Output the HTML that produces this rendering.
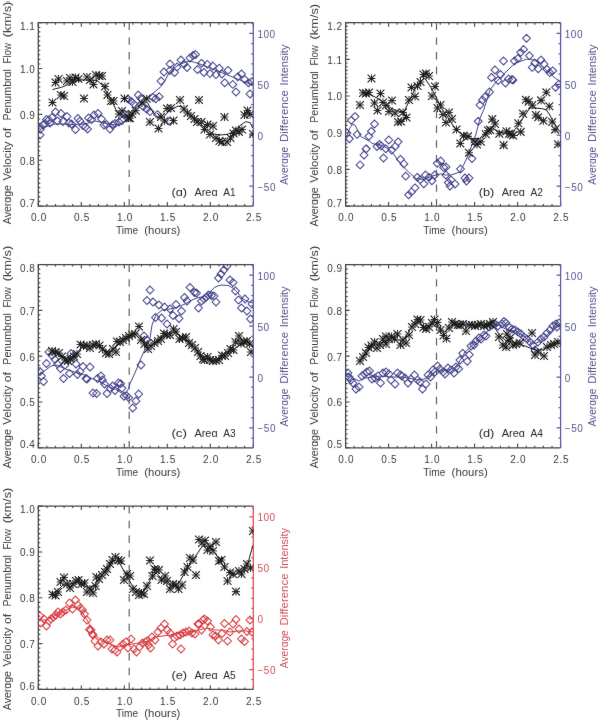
<!DOCTYPE html>
<html><head><meta charset="utf-8"><style>
html,body{margin:0;padding:0;background:#fff;}
svg{display:block;} text{-webkit-font-smoothing:antialiased;}
</style></head><body>
<svg width="600" height="721" viewBox="0 0 600 721" font-family="Liberation Sans, sans-serif">
<rect width="600" height="721" fill="#fff"/>
<defs><filter id="bl" x="0" y="0" width="1" height="1" filterUnits="objectBoundingBox"><feConvolveMatrix order="3" kernelMatrix="0.0028 0.0470 0.0028 0.0470 0.8008 0.0470 0.0028 0.0470 0.0028" edgeMode="duplicate" preserveAlpha="false"/></filter></defs>
<g style="will-change:transform" filter="url(#bl)">
<clipPath id="cpa"><rect x="38.3" y="22.7" width="215" height="183.3"/></clipPath>
<path d="M38.3 206v-4M38.3 22.7v4M46.9 206v-2M46.9 22.7v2M55.5 206v-2M55.5 22.7v2M64.1 206v-2M64.1 22.7v2M72.7 206v-2M72.7 22.7v2M81.3 206v-4M81.3 22.7v4M89.9 206v-2M89.9 22.7v2M98.5 206v-2M98.5 22.7v2M107.1 206v-2M107.1 22.7v2M115.7 206v-2M115.7 22.7v2M124.3 206v-4M124.3 22.7v4M132.9 206v-2M132.9 22.7v2M141.5 206v-2M141.5 22.7v2M150.1 206v-2M150.1 22.7v2M158.7 206v-2M158.7 22.7v2M167.3 206v-4M167.3 22.7v4M175.9 206v-2M175.9 22.7v2M184.5 206v-2M184.5 22.7v2M193.1 206v-2M193.1 22.7v2M201.7 206v-2M201.7 22.7v2M210.3 206v-4M210.3 22.7v4M218.9 206v-2M218.9 22.7v2M227.5 206v-2M227.5 22.7v2M236.1 206v-2M236.1 22.7v2M244.7 206v-2M244.7 22.7v2M253.3 206v-4M253.3 22.7v4M38.3 206h4M38.3 201.42h2M38.3 196.84h2M38.3 192.25h2M38.3 187.67h2M38.3 183.09h2M38.3 178.5h2M38.3 173.92h2M38.3 169.34h2M38.3 164.76h2M38.3 160.18h4M38.3 155.59h2M38.3 151.01h2M38.3 146.43h2M38.3 141.84h2M38.3 137.26h2M38.3 132.68h2M38.3 128.1h2M38.3 123.52h2M38.3 118.93h2M38.3 114.35h4M38.3 109.77h2M38.3 105.18h2M38.3 100.6h2M38.3 96.02h2M38.3 91.44h2M38.3 86.85h2M38.3 82.27h2M38.3 77.69h2M38.3 73.11h2M38.3 68.53h4M38.3 63.94h2M38.3 59.36h2M38.3 54.78h2M38.3 50.19h2M38.3 45.61h2M38.3 41.03h2M38.3 36.45h2M38.3 31.86h2M38.3 27.28h2M38.3 22.7h4" stroke="#444" stroke-width="1.1" fill="none"/>
<path d="M253.3 22.7H38.3V206H253.3" stroke="#444" stroke-width="1.25" fill="none"/>
<path d="M253.3 22.7V206M253.3 196.33h-2M253.3 186.14h-4M253.3 175.96h-2M253.3 165.78h-2M253.3 155.59h-2M253.3 145.41h-2M253.3 135.23h-4M253.3 125.04h-2M253.3 114.86h-2M253.3 104.68h-2M253.3 94.49h-2M253.3 84.31h-4M253.3 74.13h-2M253.3 63.94h-2M253.3 53.76h-2M253.3 43.58h-2M253.3 33.39h-4M253.3 23.21h-2" stroke="#5858a4" stroke-width="1.25" fill="none"/>
<text x="35.4" y="206.6" text-anchor="end" fill="#3c3c3c" font-size="10" letter-spacing="0.5">0.7</text>
<text x="35.4" y="164.58" text-anchor="end" fill="#3c3c3c" font-size="10" letter-spacing="0.5">0.8</text>
<text x="35.4" y="118.75" text-anchor="end" fill="#3c3c3c" font-size="10" letter-spacing="0.5">0.9</text>
<text x="35.4" y="72.93" text-anchor="end" fill="#3c3c3c" font-size="10" letter-spacing="0.5">1.0</text>
<text x="35.4" y="29.9" text-anchor="end" fill="#3c3c3c" font-size="10" letter-spacing="0.5">1.1</text>
<text x="38.9" y="221.2" text-anchor="middle" fill="#3c3c3c" font-size="10" letter-spacing="0.7">0.0</text>
<text x="81.9" y="221.2" text-anchor="middle" fill="#3c3c3c" font-size="10" letter-spacing="0.7">0.5</text>
<text x="124.9" y="221.2" text-anchor="middle" fill="#3c3c3c" font-size="10" letter-spacing="0.7">1.0</text>
<text x="167.9" y="221.2" text-anchor="middle" fill="#3c3c3c" font-size="10" letter-spacing="0.7">1.5</text>
<text x="210.9" y="221.2" text-anchor="middle" fill="#3c3c3c" font-size="10" letter-spacing="0.7">2.0</text>
<text x="253.9" y="221.2" text-anchor="middle" fill="#3c3c3c" font-size="10" letter-spacing="0.7">2.5</text>
<text x="257.5" y="37.89" fill="#55558f" font-size="10" letter-spacing="0.5">100</text>
<text x="257.5" y="88.81" fill="#55558f" font-size="10" letter-spacing="0.5">50</text>
<text x="257.5" y="139.73" fill="#55558f" font-size="10" letter-spacing="0.5">0</text>
<text x="257.5" y="190.64" fill="#55558f" font-size="10" letter-spacing="0.5">−50</text>
<text x="115.9" y="233.7" fill="#3c3c3c" font-size="10" textLength="22.2" lengthAdjust="spacingAndGlyphs">Time</text>
<text x="144.3" y="233.7" fill="#3c3c3c" font-size="10" textLength="36.1" lengthAdjust="spacingAndGlyphs">(hours)</text>
<text transform="translate(11,224.2) rotate(-90)" fill="#3c3c3c" font-size="10" textLength="39.1" lengthAdjust="spacingAndGlyphs">Averɑge</text>
<text transform="translate(11,180.6) rotate(-90)" fill="#3c3c3c" font-size="10" textLength="39.1" lengthAdjust="spacingAndGlyphs">Velocity</text>
<text transform="translate(11,138.1) rotate(-90)" fill="#3c3c3c" font-size="10" textLength="10.2" lengthAdjust="spacingAndGlyphs">of</text>
<text transform="translate(11,120.6) rotate(-90)" fill="#3c3c3c" font-size="10" textLength="51.5" lengthAdjust="spacingAndGlyphs">Penumbrɑl</text>
<text transform="translate(11,63.4) rotate(-90)" fill="#3c3c3c" font-size="10" textLength="20.3" lengthAdjust="spacingAndGlyphs">Flow</text>
<text transform="translate(11,37.2) rotate(-90)" fill="#3c3c3c" font-size="10" textLength="35.5" lengthAdjust="spacingAndGlyphs">(km/s)</text>
<text transform="translate(288,184.8) rotate(-90)" fill="#55558f" font-size="10" textLength="38" lengthAdjust="spacingAndGlyphs">Averɑge</text>
<text transform="translate(288,142) rotate(-90)" fill="#55558f" font-size="10" textLength="51.9" lengthAdjust="spacingAndGlyphs">Difference</text>
<text transform="translate(288,85.4) rotate(-90)" fill="#55558f" font-size="10" textLength="40.8" lengthAdjust="spacingAndGlyphs">Intensity</text>
<text x="171.4" y="195.6" fill="#2a2a2a" font-size="10.6" textLength="15.6" lengthAdjust="spacingAndGlyphs">(ɑ)</text>
<text x="194.4" y="195.6" fill="#2a2a2a" font-size="10.6" textLength="23.2" lengthAdjust="spacingAndGlyphs">Areɑ</text>
<text x="223.2" y="195.6" fill="#2a2a2a" font-size="10.6" textLength="12.4" lengthAdjust="spacingAndGlyphs">A1</text>
<path d="M129.2 22.7V206" stroke="#626262" stroke-width="1.2" stroke-dasharray="7.4 7.3" fill="none"/>
<polyline clip-path="url(#cpa)" points="38,131 45,127 55,124 65,124 75,124.5 85,124 95,121 105,123 115,125 120,124.5 125,121 130,113 137.5,103.3 148.3,96.7 154,92.5 160.8,86.7 164,82.5 170,71 180,64 190,61 200,64 210,68 220,72 230,76 240,80 252,85" stroke="#45458c" stroke-width="1" fill="none" stroke-linejoin="round"/>
<path clip-path="url(#cpa)" d="M40 131.1L43.9 135L40 138.9L36.1 135ZM40.5 125.1L44.4 129L40.5 132.9L36.6 129ZM43 121.1L46.9 125L43 128.9L39.1 125ZM45 119.6L48.9 123.5L45 127.4L41.1 123.5ZM46.5 115.6L50.4 119.5L46.5 123.4L42.6 119.5ZM49 116.1L52.9 120L49 123.9L45.1 120ZM50 119.1L53.9 123L50 126.9L46.1 123ZM52 113.6L55.9 117.5L52 121.4L48.1 117.5ZM55.5 108.1L59.4 112L55.5 115.9L51.6 112ZM57.5 117.1L61.4 121L57.5 124.9L53.6 121ZM61 109.6L64.9 113.5L61 117.4L57.1 113.5ZM63 117.6L66.9 121.5L63 125.4L59.1 121.5ZM67 112.6L70.9 116.5L67 120.4L63.1 116.5ZM69 119.1L72.9 123L69 126.9L65.1 123ZM71.5 120.1L75.4 124L71.5 127.9L67.6 124ZM75.5 125.6L79.4 129.5L75.5 133.4L71.6 129.5ZM78 114.6L81.9 118.5L78 122.4L74.1 118.5ZM80 117.1L83.9 121L80 124.9L76.1 121ZM83 121.6L86.9 125.5L83 129.4L79.1 125.5ZM85.5 123.1L89.4 127L85.5 130.9L81.6 127ZM87.5 125.1L91.4 129L87.5 132.9L83.6 129ZM88.5 114.1L92.4 118L88.5 121.9L84.6 118ZM91.5 115.6L95.4 119.5L91.5 123.4L87.6 119.5ZM94 111.1L97.9 115L94 118.9L90.1 115ZM98 109.6L101.9 113.5L98 117.4L94.1 113.5ZM101.5 115.1L105.4 119L101.5 122.9L97.6 119ZM104 121.1L107.9 125L104 128.9L100.1 125ZM106.5 120.6L110.4 124.5L106.5 128.4L102.6 124.5ZM110 125.1L113.9 129L110 132.9L106.1 129ZM112.5 121.1L116.4 125L112.5 128.9L108.6 125ZM115 119.6L118.9 123.5L115 127.4L111.1 123.5ZM119 118.1L122.9 122L119 125.9L115.1 122ZM122 116.6L125.9 120.5L122 124.4L118.1 120.5ZM124.5 110.1L128.4 114L124.5 117.9L120.6 114ZM128.3 95.3L132.2 99.2L128.3 103.1L124.4 99.2ZM127.5 111.1L131.4 115L127.5 118.9L123.6 115ZM131.7 97.8L135.6 101.7L131.7 105.6L127.8 101.7ZM134.2 100.3L138.1 104.2L134.2 108.1L130.3 104.2ZM138.3 91.1L142.2 95L138.3 98.9L134.4 95ZM140.8 94.4L144.7 98.3L140.8 102.2L136.9 98.3ZM143.3 102.8L147.2 106.7L143.3 110.6L139.4 106.7ZM146.7 105.3L150.6 109.2L146.7 113.1L142.8 109.2ZM150 107.8L153.9 111.7L150 115.6L146.1 111.7ZM152.9 93.6L156.8 97.5L152.9 101.4L149 97.5ZM155.8 94.9L159.7 98.8L155.8 102.7L151.9 98.8ZM159.2 92.8L163.1 96.7L159.2 100.6L155.3 96.7ZM157.5 110.7L161.4 114.6L157.5 118.5L153.6 114.6ZM170 117.6L173.9 121.5L170 125.4L166.1 121.5ZM161 77.1L164.9 81L161 84.9L157.1 81ZM164 68.1L167.9 72L164 75.9L160.1 72ZM170 60.1L173.9 64L170 67.9L166.1 64ZM170 66.6L173.9 70.5L170 74.4L166.1 70.5ZM174.5 68.6L178.4 72.5L174.5 76.4L170.6 72.5ZM177 63.1L180.9 67L177 70.9L173.1 67ZM181 56.1L184.9 60L181 63.9L177.1 60ZM184 60.1L187.9 64L184 67.9L180.1 64ZM187 63.6L190.9 67.5L187 71.4L183.1 67.5ZM190 54.1L193.9 58L190 61.9L186.1 58ZM193 51.6L196.9 55.5L193 59.4L189.1 55.5ZM195.5 50.6L199.4 54.5L195.5 58.4L191.6 54.5ZM197.5 65.6L201.4 69.5L197.5 73.4L193.6 69.5ZM201.5 59.4L205.4 63.3L201.5 67.2L197.6 63.3ZM204 68.6L207.9 72.5L204 76.4L200.1 72.5ZM207.3 60.5L211.2 64.4L207.3 68.3L203.4 64.4ZM210 69.7L213.9 73.6L210 77.5L206.1 73.6ZM212.8 62.1L216.7 66L212.8 69.9L208.9 66ZM216 70.8L219.9 74.7L216 78.6L212.1 74.7ZM219.3 64.3L223.2 68.2L219.3 72.1L215.4 68.2ZM222 70.1L225.9 74L222 77.9L218.1 74ZM224.7 78.9L228.6 82.8L224.7 86.7L220.8 82.8ZM228 66.4L231.9 70.3L228 74.2L224.1 70.3ZM232.8 80.5L236.7 84.4L232.8 88.3L228.9 84.4ZM236 88.1L239.9 92L236 95.9L232.1 92ZM237.7 72.9L241.6 76.8L237.7 80.7L233.8 76.8ZM241.5 70.1L245.4 74L241.5 77.9L237.6 74ZM244.7 75.6L248.6 79.5L244.7 83.4L240.8 79.5ZM248.5 78.9L252.4 82.8L248.5 86.7L244.6 82.8ZM250 90.1L253.9 94L250 97.9L246.1 94ZM251.8 77.8L255.7 81.7L251.8 85.6L247.9 81.7Z" stroke="#45458c" stroke-width="1.05" fill="none"/>
<polyline clip-path="url(#cpa)" points="52.5,89.5 61.5,87.3 67,85 72,82 80,80 90,80 97.3,80.5 104.3,87.5 107.8,94.5 112,101.5 116,109.7 119.5,113.2 125.3,116.7 130,115.5 134.7,109.7 139.3,105 144,101.5 147.5,102.7 152,110.8 156.8,116.7 162.7,117.8 170,110 178,106 182,107 185,110.5 196.7,119.8 206,129.2 213,133.8 220,135 227,134.4 234,131.5 239.8,125.7 245.7,121.6 250.3,122.8 252.7,128" stroke="#1a1a1a" stroke-width="1" fill="none" stroke-linejoin="round"/>
<path clip-path="url(#cpa)" d="M48.6 102.5h7.8M52.5 98.6v7.8M51.6 82.5h7.8M55.5 78.6v7.8M54.6 79h7.8M58.5 75.1v7.8M57.1 95h7.8M61 91.1v7.8M60.1 96h7.8M64 92.1v7.8M63.1 81h7.8M67 77.1v7.8M66.1 78h7.8M70 74.1v7.8M68.6 82h7.8M72.5 78.1v7.8M71.6 77.5h7.8M75.5 73.6v7.8M74.6 79h7.8M78.5 75.1v7.8M80.1 98.5h7.8M84 94.6v7.8M83.1 77h7.8M87 73.1v7.8M86.1 80h7.8M90 76.1v7.8M89.6 84.5h7.8M93.5 80.6v7.8M92.1 75h7.8M96 71.1v7.8M95.6 76h7.8M99.5 72.1v7.8M98.1 76h7.8M102 72.1v7.8M101.1 86.5h7.8M105 82.6v7.8M103.6 95h7.8M107.5 91.1v7.8M107.1 101h7.8M111 97.1v7.8M109.6 101h7.8M113.5 97.1v7.8M115.1 114h7.8M119 110.1v7.8M118.1 111h7.8M122 107.1v7.8M120.6 98.5h7.8M124.5 94.6v7.8M124.6 118h7.8M128.5 114.1v7.8M126.1 118.3h7.8M130 114.4v7.8M128.1 114h7.8M132 110.1v7.8M131.9 110.8h7.8M135.8 106.9v7.8M138.1 103h7.8M142 99.1v7.8M142.8 98.8h7.8M146.7 94.9v7.8M146.1 122h7.8M150 118.1v7.8M154.6 128.5h7.8M158.5 124.6v7.8M157.1 117h7.8M161 113.1v7.8M160.6 121h7.8M164.5 117.1v7.8M163.1 108.5h7.8M167 104.6v7.8M167.1 108h7.8M171 104.1v7.8M169.6 120.5h7.8M173.5 116.6v7.8M176.1 100h7.8M180 96.1v7.8M180.1 109h7.8M184 105.1v7.8M183.6 113h7.8M187.5 109.1v7.8M187.1 116h7.8M191 112.1v7.8M190.6 119h7.8M194.5 115.1v7.8M193.1 122h7.8M197 118.1v7.8M195.1 100h7.8M199 96.1v7.8M197.6 122h7.8M201.5 118.1v7.8M200.6 129.5h7.8M204.5 125.6v7.8M203.6 124.5h7.8M207.5 120.6v7.8M206.1 134.5h7.8M210 130.6v7.8M209.1 126h7.8M213 122.1v7.8M212.1 138h7.8M216 134.1v7.8M215.6 141h7.8M219.5 137.1v7.8M218.1 142h7.8M222 138.1v7.8M220.6 117h7.8M224.5 113.1v7.8M223.1 142h7.8M227 138.1v7.8M226.6 138h7.8M230.5 134.1v7.8M229.6 133.5h7.8M233.5 129.6v7.8M232.1 130.5h7.8M236 126.6v7.8M235.1 132h7.8M239 128.1v7.8M238.1 129.5h7.8M242 125.6v7.8M240.6 115h7.8M244.5 111.1v7.8M243.6 110.5h7.8M247.5 106.6v7.8M246.1 114.5h7.8M250 110.6v7.8M249.1 134h7.8M253 130.1v7.8" stroke="#333" stroke-width="1.1" fill="none"/>
<path clip-path="url(#cpa)" d="M48.6 98.6l7.8 7.8M48.6 106.4l7.8 -7.8M51.6 78.6l7.8 7.8M51.6 86.4l7.8 -7.8M54.6 75.1l7.8 7.8M54.6 82.9l7.8 -7.8M57.1 91.1l7.8 7.8M57.1 98.9l7.8 -7.8M60.1 92.1l7.8 7.8M60.1 99.9l7.8 -7.8M63.1 77.1l7.8 7.8M63.1 84.9l7.8 -7.8M66.1 74.1l7.8 7.8M66.1 81.9l7.8 -7.8M68.6 78.1l7.8 7.8M68.6 85.9l7.8 -7.8M71.6 73.6l7.8 7.8M71.6 81.4l7.8 -7.8M74.6 75.1l7.8 7.8M74.6 82.9l7.8 -7.8M80.1 94.6l7.8 7.8M80.1 102.4l7.8 -7.8M83.1 73.1l7.8 7.8M83.1 80.9l7.8 -7.8M86.1 76.1l7.8 7.8M86.1 83.9l7.8 -7.8M89.6 80.6l7.8 7.8M89.6 88.4l7.8 -7.8M92.1 71.1l7.8 7.8M92.1 78.9l7.8 -7.8M95.6 72.1l7.8 7.8M95.6 79.9l7.8 -7.8M98.1 72.1l7.8 7.8M98.1 79.9l7.8 -7.8M101.1 82.6l7.8 7.8M101.1 90.4l7.8 -7.8M103.6 91.1l7.8 7.8M103.6 98.9l7.8 -7.8M107.1 97.1l7.8 7.8M107.1 104.9l7.8 -7.8M109.6 97.1l7.8 7.8M109.6 104.9l7.8 -7.8M115.1 110.1l7.8 7.8M115.1 117.9l7.8 -7.8M118.1 107.1l7.8 7.8M118.1 114.9l7.8 -7.8M120.6 94.6l7.8 7.8M120.6 102.4l7.8 -7.8M124.6 114.1l7.8 7.8M124.6 121.9l7.8 -7.8M126.1 114.4l7.8 7.8M126.1 122.2l7.8 -7.8M128.1 110.1l7.8 7.8M128.1 117.9l7.8 -7.8M131.9 106.9l7.8 7.8M131.9 114.7l7.8 -7.8M138.1 99.1l7.8 7.8M138.1 106.9l7.8 -7.8M142.8 94.9l7.8 7.8M142.8 102.7l7.8 -7.8M146.1 118.1l7.8 7.8M146.1 125.9l7.8 -7.8M154.6 124.6l7.8 7.8M154.6 132.4l7.8 -7.8M157.1 113.1l7.8 7.8M157.1 120.9l7.8 -7.8M160.6 117.1l7.8 7.8M160.6 124.9l7.8 -7.8M163.1 104.6l7.8 7.8M163.1 112.4l7.8 -7.8M167.1 104.1l7.8 7.8M167.1 111.9l7.8 -7.8M169.6 116.6l7.8 7.8M169.6 124.4l7.8 -7.8M176.1 96.1l7.8 7.8M176.1 103.9l7.8 -7.8M180.1 105.1l7.8 7.8M180.1 112.9l7.8 -7.8M183.6 109.1l7.8 7.8M183.6 116.9l7.8 -7.8M187.1 112.1l7.8 7.8M187.1 119.9l7.8 -7.8M190.6 115.1l7.8 7.8M190.6 122.9l7.8 -7.8M193.1 118.1l7.8 7.8M193.1 125.9l7.8 -7.8M195.1 96.1l7.8 7.8M195.1 103.9l7.8 -7.8M197.6 118.1l7.8 7.8M197.6 125.9l7.8 -7.8M200.6 125.6l7.8 7.8M200.6 133.4l7.8 -7.8M203.6 120.6l7.8 7.8M203.6 128.4l7.8 -7.8M206.1 130.6l7.8 7.8M206.1 138.4l7.8 -7.8M209.1 122.1l7.8 7.8M209.1 129.9l7.8 -7.8M212.1 134.1l7.8 7.8M212.1 141.9l7.8 -7.8M215.6 137.1l7.8 7.8M215.6 144.9l7.8 -7.8M218.1 138.1l7.8 7.8M218.1 145.9l7.8 -7.8M220.6 113.1l7.8 7.8M220.6 120.9l7.8 -7.8M223.1 138.1l7.8 7.8M223.1 145.9l7.8 -7.8M226.6 134.1l7.8 7.8M226.6 141.9l7.8 -7.8M229.6 129.6l7.8 7.8M229.6 137.4l7.8 -7.8M232.1 126.6l7.8 7.8M232.1 134.4l7.8 -7.8M235.1 128.1l7.8 7.8M235.1 135.9l7.8 -7.8M238.1 125.6l7.8 7.8M238.1 133.4l7.8 -7.8M240.6 111.1l7.8 7.8M240.6 118.9l7.8 -7.8M243.6 106.6l7.8 7.8M243.6 114.4l7.8 -7.8M246.1 110.6l7.8 7.8M246.1 118.4l7.8 -7.8M249.1 130.1l7.8 7.8M249.1 137.9l7.8 -7.8" stroke="#1a1a1a" stroke-width="1.1" fill="none"/>
<clipPath id="cpb"><rect x="345.6" y="22.7" width="215" height="183.3"/></clipPath>
<path d="M345.6 206v-4M345.6 22.7v4M354.2 206v-2M354.2 22.7v2M362.8 206v-2M362.8 22.7v2M371.4 206v-2M371.4 22.7v2M380 206v-2M380 22.7v2M388.6 206v-4M388.6 22.7v4M397.2 206v-2M397.2 22.7v2M405.8 206v-2M405.8 22.7v2M414.4 206v-2M414.4 22.7v2M423 206v-2M423 22.7v2M431.6 206v-4M431.6 22.7v4M440.2 206v-2M440.2 22.7v2M448.8 206v-2M448.8 22.7v2M457.4 206v-2M457.4 22.7v2M466 206v-2M466 22.7v2M474.6 206v-4M474.6 22.7v4M483.2 206v-2M483.2 22.7v2M491.8 206v-2M491.8 22.7v2M500.4 206v-2M500.4 22.7v2M509 206v-2M509 22.7v2M517.6 206v-4M517.6 22.7v4M526.2 206v-2M526.2 22.7v2M534.8 206v-2M534.8 22.7v2M543.4 206v-2M543.4 22.7v2M552 206v-2M552 22.7v2M560.6 206v-4M560.6 22.7v4M345.6 206h4M345.6 202.33h2M345.6 198.67h2M345.6 195h2M345.6 191.34h2M345.6 187.67h2M345.6 184h2M345.6 180.34h2M345.6 176.67h2M345.6 173.01h2M345.6 169.34h4M345.6 165.67h2M345.6 162.01h2M345.6 158.34h2M345.6 154.68h2M345.6 151.01h2M345.6 147.34h2M345.6 143.68h2M345.6 140.01h2M345.6 136.35h2M345.6 132.68h4M345.6 129.01h2M345.6 125.35h2M345.6 121.68h2M345.6 118.02h2M345.6 114.35h2M345.6 110.68h2M345.6 107.02h2M345.6 103.35h2M345.6 99.69h2M345.6 96.02h4M345.6 92.35h2M345.6 88.69h2M345.6 85.02h2M345.6 81.36h2M345.6 77.69h2M345.6 74.02h2M345.6 70.36h2M345.6 66.69h2M345.6 63.03h2M345.6 59.36h4M345.6 55.69h2M345.6 52.03h2M345.6 48.36h2M345.6 44.7h2M345.6 41.03h2M345.6 37.36h2M345.6 33.7h2M345.6 30.03h2M345.6 26.37h2M345.6 22.7h4" stroke="#444" stroke-width="1.1" fill="none"/>
<path d="M560.6 22.7H345.6V206H560.6" stroke="#444" stroke-width="1.25" fill="none"/>
<path d="M560.6 22.7V206M560.6 196.33h-2M560.6 186.14h-4M560.6 175.96h-2M560.6 165.78h-2M560.6 155.59h-2M560.6 145.41h-2M560.6 135.23h-4M560.6 125.04h-2M560.6 114.86h-2M560.6 104.68h-2M560.6 94.49h-2M560.6 84.31h-4M560.6 74.13h-2M560.6 63.94h-2M560.6 53.76h-2M560.6 43.58h-2M560.6 33.39h-4M560.6 23.21h-2" stroke="#5858a4" stroke-width="1.25" fill="none"/>
<text x="342.7" y="206.6" text-anchor="end" fill="#3c3c3c" font-size="10" letter-spacing="0.5">0.7</text>
<text x="342.7" y="173.74" text-anchor="end" fill="#3c3c3c" font-size="10" letter-spacing="0.5">0.8</text>
<text x="342.7" y="137.08" text-anchor="end" fill="#3c3c3c" font-size="10" letter-spacing="0.5">0.9</text>
<text x="342.7" y="100.42" text-anchor="end" fill="#3c3c3c" font-size="10" letter-spacing="0.5">1.0</text>
<text x="342.7" y="63.76" text-anchor="end" fill="#3c3c3c" font-size="10" letter-spacing="0.5">1.1</text>
<text x="342.7" y="29.9" text-anchor="end" fill="#3c3c3c" font-size="10" letter-spacing="0.5">1.2</text>
<text x="346.2" y="221.2" text-anchor="middle" fill="#3c3c3c" font-size="10" letter-spacing="0.7">0.0</text>
<text x="389.2" y="221.2" text-anchor="middle" fill="#3c3c3c" font-size="10" letter-spacing="0.7">0.5</text>
<text x="432.2" y="221.2" text-anchor="middle" fill="#3c3c3c" font-size="10" letter-spacing="0.7">1.0</text>
<text x="475.2" y="221.2" text-anchor="middle" fill="#3c3c3c" font-size="10" letter-spacing="0.7">1.5</text>
<text x="518.2" y="221.2" text-anchor="middle" fill="#3c3c3c" font-size="10" letter-spacing="0.7">2.0</text>
<text x="561.2" y="221.2" text-anchor="middle" fill="#3c3c3c" font-size="10" letter-spacing="0.7">2.5</text>
<text x="564.8" y="37.89" fill="#55558f" font-size="10" letter-spacing="0.5">100</text>
<text x="564.8" y="88.81" fill="#55558f" font-size="10" letter-spacing="0.5">50</text>
<text x="564.8" y="139.73" fill="#55558f" font-size="10" letter-spacing="0.5">0</text>
<text x="564.8" y="190.64" fill="#55558f" font-size="10" letter-spacing="0.5">−50</text>
<text x="423.2" y="233.7" fill="#3c3c3c" font-size="10" textLength="22.2" lengthAdjust="spacingAndGlyphs">Time</text>
<text x="451.6" y="233.7" fill="#3c3c3c" font-size="10" textLength="36.1" lengthAdjust="spacingAndGlyphs">(hours)</text>
<text transform="translate(317.9,226.4) rotate(-90)" fill="#3c3c3c" font-size="10" textLength="39.1" lengthAdjust="spacingAndGlyphs">Averɑge</text>
<text transform="translate(317.9,182.8) rotate(-90)" fill="#3c3c3c" font-size="10" textLength="39.1" lengthAdjust="spacingAndGlyphs">Velocity</text>
<text transform="translate(317.9,140.3) rotate(-90)" fill="#3c3c3c" font-size="10" textLength="10.2" lengthAdjust="spacingAndGlyphs">of</text>
<text transform="translate(317.9,122.8) rotate(-90)" fill="#3c3c3c" font-size="10" textLength="51.5" lengthAdjust="spacingAndGlyphs">Penumbrɑl</text>
<text transform="translate(317.9,65.6) rotate(-90)" fill="#3c3c3c" font-size="10" textLength="20.3" lengthAdjust="spacingAndGlyphs">Flow</text>
<text transform="translate(317.9,39.4) rotate(-90)" fill="#3c3c3c" font-size="10" textLength="35.5" lengthAdjust="spacingAndGlyphs">(km/s)</text>
<text transform="translate(596,184.8) rotate(-90)" fill="#55558f" font-size="10" textLength="38" lengthAdjust="spacingAndGlyphs">Averɑge</text>
<text transform="translate(596,142) rotate(-90)" fill="#55558f" font-size="10" textLength="51.9" lengthAdjust="spacingAndGlyphs">Difference</text>
<text transform="translate(596,85.4) rotate(-90)" fill="#55558f" font-size="10" textLength="40.8" lengthAdjust="spacingAndGlyphs">Intensity</text>
<text x="478.7" y="195.6" fill="#2a2a2a" font-size="10.6" textLength="15.6" lengthAdjust="spacingAndGlyphs">(b)</text>
<text x="501.7" y="195.6" fill="#2a2a2a" font-size="10.6" textLength="23.2" lengthAdjust="spacingAndGlyphs">Areɑ</text>
<text x="530.5" y="195.6" fill="#2a2a2a" font-size="10.6" textLength="12.4" lengthAdjust="spacingAndGlyphs">A2</text>
<path d="M436.5 22.7V206" stroke="#626262" stroke-width="1.2" stroke-dasharray="7.4 7.3" fill="none"/>
<polyline clip-path="url(#cpb)" points="345.6,137 347.5,135 349.4,128.8 352.5,124.4 355,125 357.5,130 360.6,136.3 365,138.8 369.4,141.3 373,143.8 381,145 387,148 392.8,152.8 397.5,159.8 403.3,166.8 409.2,172.7 416.2,178.5 424.3,179.7 431.3,176.2 436,175 440.7,173.8 445.3,175 451,175 460,172 465,162 469,153 473,142 476,134 478,126 480,118 484,109 490,90 496,82 503,75 510,68 515,63 520,61.5 526.5,59.1 534.3,60 541,65 548.8,72.7 555.6,78.5 560.6,81.5" stroke="#45458c" stroke-width="1" fill="none" stroke-linejoin="round"/>
<path clip-path="url(#cpb)" d="M346.9 129.2L350.8 133.1L346.9 137L343 133.1ZM349.4 134.9L353.3 138.8L349.4 142.7L345.5 138.8ZM351.3 116.4L355.2 120.3L351.3 124.2L347.4 120.3ZM355 112.7L358.9 116.6L355 120.5L351.1 116.6ZM357.2 130.5L361.1 134.4L357.2 138.3L353.3 134.4ZM360.1 161L364 164.9L360.1 168.8L356.2 164.9ZM364 151.1L367.9 155L364 158.9L360.1 155ZM366 145.1L369.9 149L366 152.9L362.1 149ZM366.3 144.9L370.2 148.8L366.3 152.7L362.4 148.8ZM368.8 132.4L372.7 136.3L368.8 140.2L364.9 136.3ZM371.3 127.4L375.2 131.3L371.3 135.2L367.4 131.3ZM374.5 120.1L378.4 124L374.5 127.9L370.6 124ZM377 142.6L380.9 146.5L377 150.4L373.1 146.5ZM379.5 140.6L383.4 144.5L379.5 148.4L375.6 144.5ZM381.2 141.9L385.1 145.8L381.2 149.7L377.3 145.8ZM383.5 154.1L387.4 158L383.5 161.9L379.6 158ZM385.8 144.9L389.7 148.8L385.8 152.7L381.9 148.8ZM388.8 136.1L392.7 140L388.8 143.9L384.9 140ZM391.7 146.1L395.6 150L391.7 153.9L387.8 150ZM395.2 142.5L399.1 146.4L395.2 150.3L391.3 146.4ZM398.1 137.9L402 141.8L398.1 145.7L394.2 141.8ZM400.4 155.4L404.3 159.3L400.4 163.2L396.5 159.3ZM403.9 160L407.8 163.9L403.9 167.8L400 163.9ZM405.7 172.3L409.6 176.2L405.7 180.1L401.8 176.2ZM408.6 190.9L412.5 194.8L408.6 198.7L404.7 194.8ZM411.5 188L415.4 191.9L411.5 195.8L407.6 191.9ZM415 183.9L418.9 187.8L415 191.7L411.1 187.8ZM417.3 173.4L421.2 177.3L417.3 181.2L413.4 177.3ZM420.3 175.8L424.2 179.7L420.3 183.6L416.4 179.7ZM423.8 179.9L427.7 183.8L423.8 187.7L419.9 183.8ZM425.5 171.1L429.4 175L425.5 178.9L421.6 175ZM429 173.4L432.9 177.3L429 181.2L425.1 177.3ZM431.9 176.9L435.8 180.8L431.9 184.7L428 180.8ZM434.8 171.1L438.7 175L434.8 178.9L430.9 175ZM437.2 159.4L441.1 163.3L437.2 167.2L433.3 163.3ZM440.7 157.1L444.6 161L440.7 164.9L436.8 161ZM443.6 163.5L447.5 167.4L443.6 171.3L439.7 167.4ZM445.9 171.1L449.8 175L445.9 178.9L442 175ZM448.3 178.7L452.2 182.6L448.3 186.5L444.4 182.6ZM446 163.1L449.9 167L446 170.9L442.1 167ZM450 182.1L453.9 186L450 189.9L446.1 186ZM451 176.1L454.9 180L451 183.9L447.1 180ZM455 180.1L458.9 184L455 187.9L451.1 184ZM460.5 165.1L464.4 169L460.5 172.9L456.6 169ZM465 174.1L468.9 178L465 181.9L461.1 178ZM466.5 177.1L470.4 181L466.5 184.9L462.6 181ZM469 174.1L472.9 178L469 181.9L465.1 178ZM472 154.6L475.9 158.5L472 162.4L468.1 158.5ZM475 138.1L478.9 142L475 145.9L471.1 142ZM478.2 117.4L482.1 121.3L478.2 125.2L474.3 121.3ZM480 101.1L483.9 105L480 108.9L476.1 105ZM482.5 96.1L486.4 100L482.5 103.9L478.6 100ZM485 93.1L488.9 97L485 100.9L481.1 97ZM489.5 88.1L493.4 92L489.5 95.9L485.6 92ZM491.5 73.6L495.4 77.5L491.5 81.4L487.6 77.5ZM495 66.1L498.9 70L495 73.9L491.1 70ZM498 76.6L501.9 80.5L498 84.4L494.1 80.5ZM500.5 70.6L504.4 74.5L500.5 78.4L496.6 74.5ZM503.5 57.1L507.4 61L503.5 64.9L499.6 61ZM505.5 79.1L509.4 83L505.5 86.9L501.6 83ZM508.5 75.1L512.4 79L508.5 82.9L504.6 79ZM512 75.6L515.9 79.5L512 83.4L508.1 79.5ZM513 76.1L516.9 80L513 83.9L509.1 80ZM514.4 57.1L518.3 61L514.4 64.9L510.5 61ZM517.8 54.7L521.7 58.6L517.8 62.5L513.9 58.6ZM520.7 48.4L524.6 52.3L520.7 56.2L516.8 52.3ZM523.6 45.5L527.5 49.4L523.6 53.3L519.7 49.4ZM526.5 34.4L530.4 38.3L526.5 42.2L522.6 38.3ZM529.4 51.8L533.3 55.7L529.4 59.6L525.5 55.7ZM532.3 63.5L536.2 67.4L532.3 71.3L528.4 67.4ZM534.8 59.1L538.7 63L534.8 66.9L530.9 63ZM538.2 64.9L542.1 68.8L538.2 72.7L534.3 68.8ZM541 56.2L544.9 60.1L541 64L537.1 60.1ZM544 60.1L547.9 64L544 67.9L540.1 64ZM546.9 65.4L550.8 69.3L546.9 73.2L543 69.3ZM549.8 68.8L553.7 72.7L549.8 76.6L545.9 72.7ZM552.7 66.9L556.6 70.8L552.7 74.7L548.8 70.8ZM555.6 83.4L559.5 87.3L555.6 91.2L551.7 87.3ZM558.5 80.5L562.4 84.4L558.5 88.3L554.6 84.4Z" stroke="#45458c" stroke-width="1.05" fill="none"/>
<polyline clip-path="url(#cpb)" points="362,93.5 371,95 377,98 383,102 389,107 397,111 404,112 410,99 415,89 420,82 424,78 426,80 430,86 434,93 438,101 442,109 447,116 450,121.3 456.5,130 463,135.3 471.7,138.6 479.3,138.6 485.8,133.2 492.3,127.8 497.7,131 504.2,133.2 510.7,134.3 518.3,125.5 524.2,116.2 530,108 534.7,108 541.7,108.6 546.3,109.8 549.8,115 553.3,122 558,129 561,133" stroke="#1a1a1a" stroke-width="1" fill="none" stroke-linejoin="round"/>
<path clip-path="url(#cpb)" d="M356.1 105h7.8M360 101.1v7.8M359.1 93h7.8M363 89.1v7.8M362.1 93.5h7.8M366 89.6v7.8M365.1 92.5h7.8M369 88.6v7.8M367.6 78.5h7.8M371.5 74.6v7.8M370.6 103h7.8M374.5 99.1v7.8M373.6 110.5h7.8M377.5 106.6v7.8M376.6 93.5h7.8M380.5 89.6v7.8M379.1 102.5h7.8M383 98.6v7.8M382.1 105.5h7.8M386 101.6v7.8M385.1 111.5h7.8M389 107.6v7.8M388.1 100.5h7.8M392 96.6v7.8M391.1 113h7.8M395 109.1v7.8M394.1 122h7.8M398 118.1v7.8M397.1 121.5h7.8M401 117.6v7.8M399.1 112.5h7.8M403 108.6v7.8M402.6 117.5h7.8M406.5 113.6v7.8M405.1 100h7.8M409 96.1v7.8M407.6 87.5h7.8M411.5 83.6v7.8M411.1 96.5h7.8M415 92.6v7.8M413.6 86h7.8M417.5 82.1v7.8M416.6 82h7.8M420.5 78.1v7.8M419.6 74.5h7.8M423.5 70.6v7.8M422.1 73.5h7.8M426 69.6v7.8M425.1 76h7.8M429 72.1v7.8M428.1 96h7.8M432 92.1v7.8M431.1 86.5h7.8M435 82.6v7.8M433.6 108h7.8M437.5 104.1v7.8M436.6 105h7.8M440.5 101.1v7.8M439.1 114.5h7.8M443 110.6v7.8M442.1 122.5h7.8M446 118.6v7.8M445.1 112.5h7.8M449 108.6v7.8M448.1 119h7.8M452 115.1v7.8M452.6 129.5h7.8M456.5 125.6v7.8M456.4 143.5h7.8M460.3 139.6v7.8M459.6 135.9h7.8M463.5 132v7.8M464 136.4h7.8M467.9 132.5v7.8M465.1 152.7h7.8M469 148.8v7.8M471 141.8h7.8M474.9 137.9v7.8M473.1 144.5h7.8M477 140.6v7.8M477 141.8h7.8M480.9 137.9v7.8M481.9 134.3h7.8M485.8 130.4v7.8M484.1 130.5h7.8M488 126.6v7.8M486.2 129.9h7.8M490.1 126v7.8M488.4 119.1h7.8M492.3 115.2v7.8M491.1 124h7.8M495 120.1v7.8M495.4 133.7h7.8M499.3 129.8v7.8M499.7 145.1h7.8M503.6 141.2v7.8M502.6 131.2h7.8M506.5 127.3v7.8M505.1 133.7h7.8M509 129.8v7.8M507.1 134.3h7.8M511 130.4v7.8M509.2 135.4h7.8M513.1 131.5v7.8M514.4 123.2h7.8M518.3 119.3v7.8M516.8 131.9h7.8M520.7 128v7.8M519.1 113.8h7.8M523 109.9v7.8M522 99.8h7.8M525.9 95.9v7.8M524.9 101.6h7.8M528.8 97.7v7.8M528.4 105.1h7.8M532.3 101.2v7.8M531.9 115h7.8M535.8 111.1v7.8M534.3 117.3h7.8M538.2 113.4v7.8M537.2 100.4h7.8M541.1 96.5v7.8M539.5 120.8h7.8M543.4 116.9v7.8M542.4 92.3h7.8M546.3 88.4v7.8M545.4 106.3h7.8M549.3 102.4v7.8M548.3 122h7.8M552.2 118.1v7.8M551.2 129.6h7.8M555.1 125.7v7.8M554.1 144.2h7.8M558 140.3v7.8" stroke="#333" stroke-width="1.1" fill="none"/>
<path clip-path="url(#cpb)" d="M356.1 101.1l7.8 7.8M356.1 108.9l7.8 -7.8M359.1 89.1l7.8 7.8M359.1 96.9l7.8 -7.8M362.1 89.6l7.8 7.8M362.1 97.4l7.8 -7.8M365.1 88.6l7.8 7.8M365.1 96.4l7.8 -7.8M367.6 74.6l7.8 7.8M367.6 82.4l7.8 -7.8M370.6 99.1l7.8 7.8M370.6 106.9l7.8 -7.8M373.6 106.6l7.8 7.8M373.6 114.4l7.8 -7.8M376.6 89.6l7.8 7.8M376.6 97.4l7.8 -7.8M379.1 98.6l7.8 7.8M379.1 106.4l7.8 -7.8M382.1 101.6l7.8 7.8M382.1 109.4l7.8 -7.8M385.1 107.6l7.8 7.8M385.1 115.4l7.8 -7.8M388.1 96.6l7.8 7.8M388.1 104.4l7.8 -7.8M391.1 109.1l7.8 7.8M391.1 116.9l7.8 -7.8M394.1 118.1l7.8 7.8M394.1 125.9l7.8 -7.8M397.1 117.6l7.8 7.8M397.1 125.4l7.8 -7.8M399.1 108.6l7.8 7.8M399.1 116.4l7.8 -7.8M402.6 113.6l7.8 7.8M402.6 121.4l7.8 -7.8M405.1 96.1l7.8 7.8M405.1 103.9l7.8 -7.8M407.6 83.6l7.8 7.8M407.6 91.4l7.8 -7.8M411.1 92.6l7.8 7.8M411.1 100.4l7.8 -7.8M413.6 82.1l7.8 7.8M413.6 89.9l7.8 -7.8M416.6 78.1l7.8 7.8M416.6 85.9l7.8 -7.8M419.6 70.6l7.8 7.8M419.6 78.4l7.8 -7.8M422.1 69.6l7.8 7.8M422.1 77.4l7.8 -7.8M425.1 72.1l7.8 7.8M425.1 79.9l7.8 -7.8M428.1 92.1l7.8 7.8M428.1 99.9l7.8 -7.8M431.1 82.6l7.8 7.8M431.1 90.4l7.8 -7.8M433.6 104.1l7.8 7.8M433.6 111.9l7.8 -7.8M436.6 101.1l7.8 7.8M436.6 108.9l7.8 -7.8M439.1 110.6l7.8 7.8M439.1 118.4l7.8 -7.8M442.1 118.6l7.8 7.8M442.1 126.4l7.8 -7.8M445.1 108.6l7.8 7.8M445.1 116.4l7.8 -7.8M448.1 115.1l7.8 7.8M448.1 122.9l7.8 -7.8M452.6 125.6l7.8 7.8M452.6 133.4l7.8 -7.8M456.4 139.6l7.8 7.8M456.4 147.4l7.8 -7.8M459.6 132l7.8 7.8M459.6 139.8l7.8 -7.8M464 132.5l7.8 7.8M464 140.3l7.8 -7.8M465.1 148.8l7.8 7.8M465.1 156.6l7.8 -7.8M471 137.9l7.8 7.8M471 145.7l7.8 -7.8M473.1 140.6l7.8 7.8M473.1 148.4l7.8 -7.8M477 137.9l7.8 7.8M477 145.7l7.8 -7.8M481.9 130.4l7.8 7.8M481.9 138.2l7.8 -7.8M484.1 126.6l7.8 7.8M484.1 134.4l7.8 -7.8M486.2 126l7.8 7.8M486.2 133.8l7.8 -7.8M488.4 115.2l7.8 7.8M488.4 123l7.8 -7.8M491.1 120.1l7.8 7.8M491.1 127.9l7.8 -7.8M495.4 129.8l7.8 7.8M495.4 137.6l7.8 -7.8M499.7 141.2l7.8 7.8M499.7 149l7.8 -7.8M502.6 127.3l7.8 7.8M502.6 135.1l7.8 -7.8M505.1 129.8l7.8 7.8M505.1 137.6l7.8 -7.8M507.1 130.4l7.8 7.8M507.1 138.2l7.8 -7.8M509.2 131.5l7.8 7.8M509.2 139.3l7.8 -7.8M514.4 119.3l7.8 7.8M514.4 127.1l7.8 -7.8M516.8 128l7.8 7.8M516.8 135.8l7.8 -7.8M519.1 109.9l7.8 7.8M519.1 117.7l7.8 -7.8M522 95.9l7.8 7.8M522 103.7l7.8 -7.8M524.9 97.7l7.8 7.8M524.9 105.5l7.8 -7.8M528.4 101.2l7.8 7.8M528.4 109l7.8 -7.8M531.9 111.1l7.8 7.8M531.9 118.9l7.8 -7.8M534.3 113.4l7.8 7.8M534.3 121.2l7.8 -7.8M537.2 96.5l7.8 7.8M537.2 104.3l7.8 -7.8M539.5 116.9l7.8 7.8M539.5 124.7l7.8 -7.8M542.4 88.4l7.8 7.8M542.4 96.2l7.8 -7.8M545.4 102.4l7.8 7.8M545.4 110.2l7.8 -7.8M548.3 118.1l7.8 7.8M548.3 125.9l7.8 -7.8M551.2 125.7l7.8 7.8M551.2 133.5l7.8 -7.8M554.1 140.3l7.8 7.8M554.1 148.1l7.8 -7.8" stroke="#1a1a1a" stroke-width="1.1" fill="none"/>
<clipPath id="cpc"><rect x="38.3" y="264.5" width="215" height="183.3"/></clipPath>
<path d="M38.3 447.8v-4M38.3 264.5v4M46.9 447.8v-2M46.9 264.5v2M55.5 447.8v-2M55.5 264.5v2M64.1 447.8v-2M64.1 264.5v2M72.7 447.8v-2M72.7 264.5v2M81.3 447.8v-4M81.3 264.5v4M89.9 447.8v-2M89.9 264.5v2M98.5 447.8v-2M98.5 264.5v2M107.1 447.8v-2M107.1 264.5v2M115.7 447.8v-2M115.7 264.5v2M124.3 447.8v-4M124.3 264.5v4M132.9 447.8v-2M132.9 264.5v2M141.5 447.8v-2M141.5 264.5v2M150.1 447.8v-2M150.1 264.5v2M158.7 447.8v-2M158.7 264.5v2M167.3 447.8v-4M167.3 264.5v4M175.9 447.8v-2M175.9 264.5v2M184.5 447.8v-2M184.5 264.5v2M193.1 447.8v-2M193.1 264.5v2M201.7 447.8v-2M201.7 264.5v2M210.3 447.8v-4M210.3 264.5v4M218.9 447.8v-2M218.9 264.5v2M227.5 447.8v-2M227.5 264.5v2M236.1 447.8v-2M236.1 264.5v2M244.7 447.8v-2M244.7 264.5v2M253.3 447.8v-4M253.3 264.5v4M38.3 447.8h4M38.3 443.22h2M38.3 438.63h2M38.3 434.05h2M38.3 429.47h2M38.3 424.89h2M38.3 420.31h2M38.3 415.72h2M38.3 411.14h2M38.3 406.56h2M38.3 401.98h4M38.3 397.39h2M38.3 392.81h2M38.3 388.23h2M38.3 383.64h2M38.3 379.06h2M38.3 374.48h2M38.3 369.9h2M38.3 365.31h2M38.3 360.73h2M38.3 356.15h4M38.3 351.57h2M38.3 346.99h2M38.3 342.4h2M38.3 337.82h2M38.3 333.24h2M38.3 328.65h2M38.3 324.07h2M38.3 319.49h2M38.3 314.91h2M38.3 310.33h4M38.3 305.74h2M38.3 301.16h2M38.3 296.58h2M38.3 292h2M38.3 287.41h2M38.3 282.83h2M38.3 278.25h2M38.3 273.66h2M38.3 269.08h2M38.3 264.5h4" stroke="#444" stroke-width="1.1" fill="none"/>
<path d="M253.3 264.5H38.3V447.8H253.3" stroke="#444" stroke-width="1.25" fill="none"/>
<path d="M253.3 264.5V447.8M253.3 438.13h-2M253.3 427.94h-4M253.3 417.76h-2M253.3 407.58h-2M253.3 397.39h-2M253.3 387.21h-2M253.3 377.03h-4M253.3 366.84h-2M253.3 356.66h-2M253.3 346.48h-2M253.3 336.29h-2M253.3 326.11h-4M253.3 315.93h-2M253.3 305.74h-2M253.3 295.56h-2M253.3 285.38h-2M253.3 275.19h-4M253.3 265.01h-2" stroke="#5858a4" stroke-width="1.25" fill="none"/>
<text x="35.4" y="448.4" text-anchor="end" fill="#3c3c3c" font-size="10" letter-spacing="0.5">0.4</text>
<text x="35.4" y="406.38" text-anchor="end" fill="#3c3c3c" font-size="10" letter-spacing="0.5">0.5</text>
<text x="35.4" y="360.55" text-anchor="end" fill="#3c3c3c" font-size="10" letter-spacing="0.5">0.6</text>
<text x="35.4" y="314.73" text-anchor="end" fill="#3c3c3c" font-size="10" letter-spacing="0.5">0.7</text>
<text x="35.4" y="271.7" text-anchor="end" fill="#3c3c3c" font-size="10" letter-spacing="0.5">0.8</text>
<text x="38.9" y="463" text-anchor="middle" fill="#3c3c3c" font-size="10" letter-spacing="0.7">0.0</text>
<text x="81.9" y="463" text-anchor="middle" fill="#3c3c3c" font-size="10" letter-spacing="0.7">0.5</text>
<text x="124.9" y="463" text-anchor="middle" fill="#3c3c3c" font-size="10" letter-spacing="0.7">1.0</text>
<text x="167.9" y="463" text-anchor="middle" fill="#3c3c3c" font-size="10" letter-spacing="0.7">1.5</text>
<text x="210.9" y="463" text-anchor="middle" fill="#3c3c3c" font-size="10" letter-spacing="0.7">2.0</text>
<text x="253.9" y="463" text-anchor="middle" fill="#3c3c3c" font-size="10" letter-spacing="0.7">2.5</text>
<text x="257.5" y="279.69" fill="#55558f" font-size="10" letter-spacing="0.5">100</text>
<text x="257.5" y="330.61" fill="#55558f" font-size="10" letter-spacing="0.5">50</text>
<text x="257.5" y="381.53" fill="#55558f" font-size="10" letter-spacing="0.5">0</text>
<text x="257.5" y="432.44" fill="#55558f" font-size="10" letter-spacing="0.5">−50</text>
<text x="115.9" y="475.5" fill="#3c3c3c" font-size="10" textLength="22.2" lengthAdjust="spacingAndGlyphs">Time</text>
<text x="144.3" y="475.5" fill="#3c3c3c" font-size="10" textLength="36.1" lengthAdjust="spacingAndGlyphs">(hours)</text>
<text transform="translate(11,468.3) rotate(-90)" fill="#3c3c3c" font-size="10" textLength="39.1" lengthAdjust="spacingAndGlyphs">Averɑge</text>
<text transform="translate(11,424.7) rotate(-90)" fill="#3c3c3c" font-size="10" textLength="39.1" lengthAdjust="spacingAndGlyphs">Velocity</text>
<text transform="translate(11,382.2) rotate(-90)" fill="#3c3c3c" font-size="10" textLength="10.2" lengthAdjust="spacingAndGlyphs">of</text>
<text transform="translate(11,364.7) rotate(-90)" fill="#3c3c3c" font-size="10" textLength="51.5" lengthAdjust="spacingAndGlyphs">Penumbrɑl</text>
<text transform="translate(11,307.5) rotate(-90)" fill="#3c3c3c" font-size="10" textLength="20.3" lengthAdjust="spacingAndGlyphs">Flow</text>
<text transform="translate(11,281.3) rotate(-90)" fill="#3c3c3c" font-size="10" textLength="35.5" lengthAdjust="spacingAndGlyphs">(km/s)</text>
<text transform="translate(288,426.6) rotate(-90)" fill="#55558f" font-size="10" textLength="38" lengthAdjust="spacingAndGlyphs">Averɑge</text>
<text transform="translate(288,383.8) rotate(-90)" fill="#55558f" font-size="10" textLength="51.9" lengthAdjust="spacingAndGlyphs">Difference</text>
<text transform="translate(288,327.2) rotate(-90)" fill="#55558f" font-size="10" textLength="40.8" lengthAdjust="spacingAndGlyphs">Intensity</text>
<text x="171.4" y="437.4" fill="#2a2a2a" font-size="10.6" textLength="15.6" lengthAdjust="spacingAndGlyphs">(c)</text>
<text x="194.4" y="437.4" fill="#2a2a2a" font-size="10.6" textLength="23.2" lengthAdjust="spacingAndGlyphs">Areɑ</text>
<text x="223.2" y="437.4" fill="#2a2a2a" font-size="10.6" textLength="12.4" lengthAdjust="spacingAndGlyphs">A3</text>
<path d="M129.2 264.5V447.8" stroke="#626262" stroke-width="1.2" stroke-dasharray="7.4 7.3" fill="none"/>
<polyline clip-path="url(#cpc)" points="38.3,375 42,372.5 47,369 51,366 56,365 61,367 68,370 76,372.5 85,375 93,379 100,382 107,386 115,389 122.7,393.7 126.7,391.7 128.7,388.3 130,383.7 134,375 137,368 141,358 146,347 150,338 152,325 156,315 162,310 170,309 178,307 185,304 192,300 198,297.5 203,297 210,292 215,287 221,285 228,285.5 233,288 238,293 243,299 249,302 253.3,303" stroke="#45458c" stroke-width="1" fill="none" stroke-linejoin="round"/>
<path clip-path="url(#cpc)" d="M40 367.6L43.9 371.5L40 375.4L36.1 371.5ZM41.5 372.1L45.4 376L41.5 379.9L37.6 376ZM43.5 377.6L47.4 381.5L43.5 385.4L39.6 381.5ZM46.5 359.6L50.4 363.5L46.5 367.4L42.6 363.5ZM49 348.1L52.9 352L49 355.9L45.1 352ZM52 351.6L55.9 355.5L52 359.4L48.1 355.5ZM55 355.6L58.9 359.5L55 363.4L51.1 359.5ZM57.5 360.1L61.4 364L57.5 367.9L53.6 364ZM60.5 364.6L64.4 368.5L60.5 372.4L56.6 368.5ZM63.5 374.6L67.4 378.5L63.5 382.4L59.6 378.5ZM65 361.1L68.9 365L65 368.9L61.1 365ZM69.5 369.6L73.4 373.5L69.5 377.4L65.6 373.5ZM71 349.6L74.9 353.5L71 357.4L67.1 353.5ZM73 352.6L76.9 356.5L73 360.4L69.1 356.5ZM76 360.1L79.9 364L76 367.9L72.1 364ZM77.5 370.6L81.4 374.5L77.5 378.4L73.6 374.5ZM80 367.6L83.9 371.5L80 375.4L76.1 371.5ZM83 362.6L86.9 366.5L83 370.4L79.1 366.5ZM86 374.6L89.9 378.5L86 382.4L82.1 378.5ZM87 375.1L90.9 379L87 382.9L83.1 379ZM90 363.1L93.9 367L90 370.9L86.1 367ZM93 389.1L96.9 393L93 396.9L89.1 393ZM96.5 389.6L100.4 393.5L96.5 397.4L92.6 393.5ZM97.5 374.6L101.4 378.5L97.5 382.4L93.6 378.5ZM101 372.1L104.9 376L101 379.9L97.1 376ZM102.5 376.1L106.4 380L102.5 383.9L98.6 380ZM104.5 380.1L108.4 384L104.5 387.9L100.6 384ZM107 389.6L110.9 393.5L107 397.4L103.1 393.5ZM110.5 384.6L114.4 388.5L110.5 392.4L106.6 388.5ZM112.5 382.1L116.4 386L112.5 389.9L108.6 386ZM115 386.6L118.9 390.5L115 394.4L111.1 390.5ZM118.5 379.1L122.4 383L118.5 386.9L114.6 383ZM120.7 379.8L124.6 383.7L120.7 387.6L116.8 383.7ZM122 384.4L125.9 388.3L122 392.2L118.1 388.3ZM124 392.4L127.9 396.3L124 400.2L120.1 396.3ZM126.7 391.8L130.6 395.7L126.7 399.6L122.8 395.7ZM128.7 393.8L132.6 397.7L128.7 401.6L124.8 397.7ZM132.7 404.1L136.6 408L132.7 411.9L128.8 408ZM136 397.1L139.9 401L136 404.9L132.1 401ZM138.7 390.1L142.6 394L138.7 397.9L134.8 394ZM141 361.1L144.9 365L141 368.9L137.1 365ZM144 332.1L147.9 336L144 339.9L140.1 336ZM147 336.1L150.9 340L147 343.9L143.1 340ZM147 296.6L150.9 300.5L147 304.4L143.1 300.5ZM150 286.1L153.9 290L150 293.9L146.1 290ZM153 298.1L156.9 302L153 305.9L149.1 302ZM155.5 313.6L159.4 317.5L155.5 321.4L151.6 317.5ZM159 301.1L162.9 305L159 308.9L155.1 305ZM161.5 314.1L165.4 318L161.5 321.9L157.6 318ZM164.5 303.1L168.4 307L164.5 310.9L160.6 307ZM167 320.1L170.9 324L167 327.9L163.1 324ZM170 305.1L173.9 309L170 312.9L166.1 309ZM173 311.6L176.9 315.5L173 319.4L169.1 315.5ZM176 300.6L179.9 304.5L176 308.4L172.1 304.5ZM179 314.6L182.9 318.5L179 322.4L175.1 318.5ZM181.5 307.1L185.4 311L181.5 314.9L177.6 311ZM184.5 293.6L188.4 297.5L184.5 301.4L180.6 297.5ZM187 297.1L190.9 301L187 304.9L183.1 301ZM190 283.6L193.9 287.5L190 291.4L186.1 287.5ZM194.5 288.6L198.4 292.5L194.5 296.4L190.6 292.5ZM196.5 289.1L200.4 293L196.5 296.9L192.6 293ZM198.5 304.1L202.4 308L198.5 311.9L194.6 308ZM201.5 297.1L205.4 301L201.5 304.9L197.6 301ZM204 295.1L207.9 299L204 302.9L200.1 299ZM206.5 293.1L210.4 297L206.5 300.9L202.6 297ZM208.5 291.1L212.4 295L208.5 298.9L204.6 295ZM211.5 291.6L215.4 295.5L211.5 299.4L207.6 295.5ZM214 292.1L217.9 296L214 299.9L210.1 296ZM216 298.1L219.9 302L216 305.9L212.1 302ZM218.5 274.1L222.4 278L218.5 281.9L214.6 278ZM221 270.1L224.9 274L221 277.9L217.1 274ZM224 266.1L227.9 270L224 273.9L220.1 270ZM227 262.1L230.9 266L227 269.9L223.1 266ZM230 276.1L233.9 280L230 283.9L226.1 280ZM233 278.6L236.9 282.5L233 286.4L229.1 282.5ZM235.5 287.1L239.4 291L235.5 294.9L231.6 291ZM238.5 296.1L242.4 300L238.5 303.9L234.6 300ZM241.5 304.1L245.4 308L241.5 311.9L237.6 308ZM245 295.1L248.9 299L245 302.9L241.1 299ZM247 307.1L250.9 311L247 314.9L243.1 311ZM250.5 315.1L254.4 319L250.5 322.9L246.6 319ZM252 300.1L255.9 304L252 307.9L248.1 304Z" stroke="#45458c" stroke-width="1.05" fill="none"/>
<polyline clip-path="url(#cpc)" points="52,351 58,354 64,358 70,358 76,354 82,347 90,346 98,346 104,350 109,352 114,349 120,343 126,338 132,334.5 137,333 141,338 145,344 150,346 156,342 162,337 168,334 174,332 180,336 186,339 192,345 198,352 204,358 210,360 216,360 222,356 228,352 234,346 239,340 244,341 249,343 253,346" stroke="#1a1a1a" stroke-width="1" fill="none" stroke-linejoin="round"/>
<path clip-path="url(#cpc)" d="M48.1 351h7.8M52 347.1v7.8M51.6 352h7.8M55.5 348.1v7.8M55.1 353h7.8M59 349.1v7.8M58.1 356.5h7.8M62 352.6v7.8M61.1 360h7.8M65 356.1v7.8M64.1 361h7.8M68 357.1v7.8M66.6 359h7.8M70.5 355.1v7.8M70.1 356.5h7.8M74 352.6v7.8M73.1 354h7.8M77 350.1v7.8M76.6 344.5h7.8M80.5 340.6v7.8M79.6 346h7.8M83.5 342.1v7.8M83.1 345.5h7.8M87 341.6v7.8M86.1 348h7.8M90 344.1v7.8M89.1 345h7.8M93 341.1v7.8M92.1 344h7.8M96 340.1v7.8M95.6 345.5h7.8M99.5 341.6v7.8M98.6 349h7.8M102.5 345.1v7.8M102.1 353h7.8M106 349.1v7.8M105.1 354h7.8M109 350.1v7.8M109.1 349h7.8M113 345.1v7.8M112.1 352h7.8M116 348.1v7.8M113.1 341.5h7.8M117 337.6v7.8M116.1 342h7.8M120 338.1v7.8M119.1 340h7.8M123 336.1v7.8M122.1 338h7.8M126 334.1v7.8M125.1 336h7.8M129 332.1v7.8M128.1 334.5h7.8M132 330.6v7.8M131.1 334h7.8M135 330.1v7.8M135.1 326.5h7.8M139 322.6v7.8M137.1 340h7.8M141 336.1v7.8M140.6 344h7.8M144.5 340.1v7.8M144.1 349h7.8M148 345.1v7.8M147.1 346h7.8M151 342.1v7.8M150.6 343h7.8M154.5 339.1v7.8M154.1 341h7.8M158 337.1v7.8M157.1 339h7.8M161 335.1v7.8M160.1 333.5h7.8M164 329.6v7.8M163.1 335h7.8M167 331.1v7.8M166.1 335h7.8M170 331.1v7.8M169.6 329h7.8M173.5 325.1v7.8M172.1 332h7.8M176 328.1v7.8M175.6 339h7.8M179.5 335.1v7.8M178.6 338h7.8M182.5 334.1v7.8M182.1 337h7.8M186 333.1v7.8M185.1 343h7.8M189 339.1v7.8M188.1 345h7.8M192 341.1v7.8M191.1 348h7.8M195 344.1v7.8M194.1 352h7.8M198 348.1v7.8M196.6 356h7.8M200.5 352.1v7.8M199.1 359h7.8M203 355.1v7.8M200.6 360h7.8M204.5 356.1v7.8M203.6 357h7.8M207.5 353.1v7.8M206.1 360h7.8M210 356.1v7.8M209.1 361h7.8M213 357.1v7.8M212.1 360.5h7.8M216 356.6v7.8M215.1 360h7.8M219 356.1v7.8M218.1 355.5h7.8M222 351.6v7.8M221.1 356h7.8M225 352.1v7.8M224.1 353h7.8M228 349.1v7.8M226.6 349h7.8M230.5 345.1v7.8M229.6 350h7.8M233.5 346.1v7.8M231.6 342h7.8M235.5 338.1v7.8M235.1 336h7.8M239 332.1v7.8M237.1 343.5h7.8M241 339.6v7.8M240.1 342h7.8M244 338.1v7.8M243.1 341h7.8M247 337.1v7.8M245.6 344h7.8M249.5 340.1v7.8M247.1 352h7.8M251 348.1v7.8" stroke="#333" stroke-width="1.1" fill="none"/>
<path clip-path="url(#cpc)" d="M48.1 347.1l7.8 7.8M48.1 354.9l7.8 -7.8M51.6 348.1l7.8 7.8M51.6 355.9l7.8 -7.8M55.1 349.1l7.8 7.8M55.1 356.9l7.8 -7.8M58.1 352.6l7.8 7.8M58.1 360.4l7.8 -7.8M61.1 356.1l7.8 7.8M61.1 363.9l7.8 -7.8M64.1 357.1l7.8 7.8M64.1 364.9l7.8 -7.8M66.6 355.1l7.8 7.8M66.6 362.9l7.8 -7.8M70.1 352.6l7.8 7.8M70.1 360.4l7.8 -7.8M73.1 350.1l7.8 7.8M73.1 357.9l7.8 -7.8M76.6 340.6l7.8 7.8M76.6 348.4l7.8 -7.8M79.6 342.1l7.8 7.8M79.6 349.9l7.8 -7.8M83.1 341.6l7.8 7.8M83.1 349.4l7.8 -7.8M86.1 344.1l7.8 7.8M86.1 351.9l7.8 -7.8M89.1 341.1l7.8 7.8M89.1 348.9l7.8 -7.8M92.1 340.1l7.8 7.8M92.1 347.9l7.8 -7.8M95.6 341.6l7.8 7.8M95.6 349.4l7.8 -7.8M98.6 345.1l7.8 7.8M98.6 352.9l7.8 -7.8M102.1 349.1l7.8 7.8M102.1 356.9l7.8 -7.8M105.1 350.1l7.8 7.8M105.1 357.9l7.8 -7.8M109.1 345.1l7.8 7.8M109.1 352.9l7.8 -7.8M112.1 348.1l7.8 7.8M112.1 355.9l7.8 -7.8M113.1 337.6l7.8 7.8M113.1 345.4l7.8 -7.8M116.1 338.1l7.8 7.8M116.1 345.9l7.8 -7.8M119.1 336.1l7.8 7.8M119.1 343.9l7.8 -7.8M122.1 334.1l7.8 7.8M122.1 341.9l7.8 -7.8M125.1 332.1l7.8 7.8M125.1 339.9l7.8 -7.8M128.1 330.6l7.8 7.8M128.1 338.4l7.8 -7.8M131.1 330.1l7.8 7.8M131.1 337.9l7.8 -7.8M135.1 322.6l7.8 7.8M135.1 330.4l7.8 -7.8M137.1 336.1l7.8 7.8M137.1 343.9l7.8 -7.8M140.6 340.1l7.8 7.8M140.6 347.9l7.8 -7.8M144.1 345.1l7.8 7.8M144.1 352.9l7.8 -7.8M147.1 342.1l7.8 7.8M147.1 349.9l7.8 -7.8M150.6 339.1l7.8 7.8M150.6 346.9l7.8 -7.8M154.1 337.1l7.8 7.8M154.1 344.9l7.8 -7.8M157.1 335.1l7.8 7.8M157.1 342.9l7.8 -7.8M160.1 329.6l7.8 7.8M160.1 337.4l7.8 -7.8M163.1 331.1l7.8 7.8M163.1 338.9l7.8 -7.8M166.1 331.1l7.8 7.8M166.1 338.9l7.8 -7.8M169.6 325.1l7.8 7.8M169.6 332.9l7.8 -7.8M172.1 328.1l7.8 7.8M172.1 335.9l7.8 -7.8M175.6 335.1l7.8 7.8M175.6 342.9l7.8 -7.8M178.6 334.1l7.8 7.8M178.6 341.9l7.8 -7.8M182.1 333.1l7.8 7.8M182.1 340.9l7.8 -7.8M185.1 339.1l7.8 7.8M185.1 346.9l7.8 -7.8M188.1 341.1l7.8 7.8M188.1 348.9l7.8 -7.8M191.1 344.1l7.8 7.8M191.1 351.9l7.8 -7.8M194.1 348.1l7.8 7.8M194.1 355.9l7.8 -7.8M196.6 352.1l7.8 7.8M196.6 359.9l7.8 -7.8M199.1 355.1l7.8 7.8M199.1 362.9l7.8 -7.8M200.6 356.1l7.8 7.8M200.6 363.9l7.8 -7.8M203.6 353.1l7.8 7.8M203.6 360.9l7.8 -7.8M206.1 356.1l7.8 7.8M206.1 363.9l7.8 -7.8M209.1 357.1l7.8 7.8M209.1 364.9l7.8 -7.8M212.1 356.6l7.8 7.8M212.1 364.4l7.8 -7.8M215.1 356.1l7.8 7.8M215.1 363.9l7.8 -7.8M218.1 351.6l7.8 7.8M218.1 359.4l7.8 -7.8M221.1 352.1l7.8 7.8M221.1 359.9l7.8 -7.8M224.1 349.1l7.8 7.8M224.1 356.9l7.8 -7.8M226.6 345.1l7.8 7.8M226.6 352.9l7.8 -7.8M229.6 346.1l7.8 7.8M229.6 353.9l7.8 -7.8M231.6 338.1l7.8 7.8M231.6 345.9l7.8 -7.8M235.1 332.1l7.8 7.8M235.1 339.9l7.8 -7.8M237.1 339.6l7.8 7.8M237.1 347.4l7.8 -7.8M240.1 338.1l7.8 7.8M240.1 345.9l7.8 -7.8M243.1 337.1l7.8 7.8M243.1 344.9l7.8 -7.8M245.6 340.1l7.8 7.8M245.6 347.9l7.8 -7.8M247.1 348.1l7.8 7.8M247.1 355.9l7.8 -7.8" stroke="#1a1a1a" stroke-width="1.1" fill="none"/>
<clipPath id="cpd"><rect x="345.6" y="264.5" width="215" height="183.3"/></clipPath>
<path d="M345.6 447.8v-4M345.6 264.5v4M354.2 447.8v-2M354.2 264.5v2M362.8 447.8v-2M362.8 264.5v2M371.4 447.8v-2M371.4 264.5v2M380 447.8v-2M380 264.5v2M388.6 447.8v-4M388.6 264.5v4M397.2 447.8v-2M397.2 264.5v2M405.8 447.8v-2M405.8 264.5v2M414.4 447.8v-2M414.4 264.5v2M423 447.8v-2M423 264.5v2M431.6 447.8v-4M431.6 264.5v4M440.2 447.8v-2M440.2 264.5v2M448.8 447.8v-2M448.8 264.5v2M457.4 447.8v-2M457.4 264.5v2M466 447.8v-2M466 264.5v2M474.6 447.8v-4M474.6 264.5v4M483.2 447.8v-2M483.2 264.5v2M491.8 447.8v-2M491.8 264.5v2M500.4 447.8v-2M500.4 264.5v2M509 447.8v-2M509 264.5v2M517.6 447.8v-4M517.6 264.5v4M526.2 447.8v-2M526.2 264.5v2M534.8 447.8v-2M534.8 264.5v2M543.4 447.8v-2M543.4 264.5v2M552 447.8v-2M552 264.5v2M560.6 447.8v-4M560.6 264.5v4M345.6 447.8h4M345.6 443.22h2M345.6 438.63h2M345.6 434.05h2M345.6 429.47h2M345.6 424.89h2M345.6 420.31h2M345.6 415.72h2M345.6 411.14h2M345.6 406.56h2M345.6 401.98h4M345.6 397.39h2M345.6 392.81h2M345.6 388.23h2M345.6 383.64h2M345.6 379.06h2M345.6 374.48h2M345.6 369.9h2M345.6 365.31h2M345.6 360.73h2M345.6 356.15h4M345.6 351.57h2M345.6 346.99h2M345.6 342.4h2M345.6 337.82h2M345.6 333.24h2M345.6 328.65h2M345.6 324.07h2M345.6 319.49h2M345.6 314.91h2M345.6 310.33h4M345.6 305.74h2M345.6 301.16h2M345.6 296.58h2M345.6 292h2M345.6 287.41h2M345.6 282.83h2M345.6 278.25h2M345.6 273.66h2M345.6 269.08h2M345.6 264.5h4" stroke="#444" stroke-width="1.1" fill="none"/>
<path d="M560.6 264.5H345.6V447.8H560.6" stroke="#444" stroke-width="1.25" fill="none"/>
<path d="M560.6 264.5V447.8M560.6 438.13h-2M560.6 427.94h-4M560.6 417.76h-2M560.6 407.58h-2M560.6 397.39h-2M560.6 387.21h-2M560.6 377.03h-4M560.6 366.84h-2M560.6 356.66h-2M560.6 346.48h-2M560.6 336.29h-2M560.6 326.11h-4M560.6 315.93h-2M560.6 305.74h-2M560.6 295.56h-2M560.6 285.38h-2M560.6 275.19h-4M560.6 265.01h-2" stroke="#5858a4" stroke-width="1.25" fill="none"/>
<text x="342.7" y="448.4" text-anchor="end" fill="#3c3c3c" font-size="10" letter-spacing="0.5">0.5</text>
<text x="342.7" y="406.38" text-anchor="end" fill="#3c3c3c" font-size="10" letter-spacing="0.5">0.6</text>
<text x="342.7" y="360.55" text-anchor="end" fill="#3c3c3c" font-size="10" letter-spacing="0.5">0.7</text>
<text x="342.7" y="314.73" text-anchor="end" fill="#3c3c3c" font-size="10" letter-spacing="0.5">0.8</text>
<text x="342.7" y="271.7" text-anchor="end" fill="#3c3c3c" font-size="10" letter-spacing="0.5">0.9</text>
<text x="346.2" y="463" text-anchor="middle" fill="#3c3c3c" font-size="10" letter-spacing="0.7">0.0</text>
<text x="389.2" y="463" text-anchor="middle" fill="#3c3c3c" font-size="10" letter-spacing="0.7">0.5</text>
<text x="432.2" y="463" text-anchor="middle" fill="#3c3c3c" font-size="10" letter-spacing="0.7">1.0</text>
<text x="475.2" y="463" text-anchor="middle" fill="#3c3c3c" font-size="10" letter-spacing="0.7">1.5</text>
<text x="518.2" y="463" text-anchor="middle" fill="#3c3c3c" font-size="10" letter-spacing="0.7">2.0</text>
<text x="561.2" y="463" text-anchor="middle" fill="#3c3c3c" font-size="10" letter-spacing="0.7">2.5</text>
<text x="564.8" y="279.69" fill="#55558f" font-size="10" letter-spacing="0.5">100</text>
<text x="564.8" y="330.61" fill="#55558f" font-size="10" letter-spacing="0.5">50</text>
<text x="564.8" y="381.53" fill="#55558f" font-size="10" letter-spacing="0.5">0</text>
<text x="564.8" y="432.44" fill="#55558f" font-size="10" letter-spacing="0.5">−50</text>
<text x="423.2" y="475.5" fill="#3c3c3c" font-size="10" textLength="22.2" lengthAdjust="spacingAndGlyphs">Time</text>
<text x="451.6" y="475.5" fill="#3c3c3c" font-size="10" textLength="36.1" lengthAdjust="spacingAndGlyphs">(hours)</text>
<text transform="translate(317.9,468.3) rotate(-90)" fill="#3c3c3c" font-size="10" textLength="39.1" lengthAdjust="spacingAndGlyphs">Averɑge</text>
<text transform="translate(317.9,424.7) rotate(-90)" fill="#3c3c3c" font-size="10" textLength="39.1" lengthAdjust="spacingAndGlyphs">Velocity</text>
<text transform="translate(317.9,382.2) rotate(-90)" fill="#3c3c3c" font-size="10" textLength="10.2" lengthAdjust="spacingAndGlyphs">of</text>
<text transform="translate(317.9,364.7) rotate(-90)" fill="#3c3c3c" font-size="10" textLength="51.5" lengthAdjust="spacingAndGlyphs">Penumbrɑl</text>
<text transform="translate(317.9,307.5) rotate(-90)" fill="#3c3c3c" font-size="10" textLength="20.3" lengthAdjust="spacingAndGlyphs">Flow</text>
<text transform="translate(317.9,281.3) rotate(-90)" fill="#3c3c3c" font-size="10" textLength="35.5" lengthAdjust="spacingAndGlyphs">(km/s)</text>
<text transform="translate(596,426.6) rotate(-90)" fill="#55558f" font-size="10" textLength="38" lengthAdjust="spacingAndGlyphs">Averɑge</text>
<text transform="translate(596,383.8) rotate(-90)" fill="#55558f" font-size="10" textLength="51.9" lengthAdjust="spacingAndGlyphs">Difference</text>
<text transform="translate(596,327.2) rotate(-90)" fill="#55558f" font-size="10" textLength="40.8" lengthAdjust="spacingAndGlyphs">Intensity</text>
<text x="478.7" y="437.4" fill="#2a2a2a" font-size="10.6" textLength="15.6" lengthAdjust="spacingAndGlyphs">(d)</text>
<text x="501.7" y="437.4" fill="#2a2a2a" font-size="10.6" textLength="23.2" lengthAdjust="spacingAndGlyphs">Areɑ</text>
<text x="530.5" y="437.4" fill="#2a2a2a" font-size="10.6" textLength="12.4" lengthAdjust="spacingAndGlyphs">A4</text>
<path d="M436.5 264.5V447.8" stroke="#626262" stroke-width="1.2" stroke-dasharray="7.4 7.3" fill="none"/>
<polyline clip-path="url(#cpd)" points="345.6,373 347,373 353,378 359,381 365,378 373,377 381,376 389,377 397,377 403,377 408,378 418,380 424,379 430,376 436,371 442,370 448,370 454,368 458,364 465,352 475,343 485,334 492,326 497,324.5 502,327 509,331 515,330.5 525,337 533,344 539,342 547,335 555,328 560.6,325" stroke="#45458c" stroke-width="1" fill="none" stroke-linejoin="round"/>
<path clip-path="url(#cpd)" d="M348 369.1L351.9 373L348 376.9L344.1 373ZM349 373.1L352.9 377L349 380.9L345.1 377ZM351 376.1L354.9 380L351 383.9L347.1 380ZM353 379.1L356.9 383L353 386.9L349.1 383ZM356 385.1L359.9 389L356 392.9L352.1 389ZM359 383.1L362.9 387L359 390.9L355.1 387ZM362 372.1L365.9 376L362 379.9L358.1 376ZM364.5 370.1L368.4 374L364.5 377.9L360.6 374ZM367 368.1L370.9 372L367 375.9L363.1 372ZM369.5 367.1L373.4 371L369.5 374.9L365.6 371ZM372 375.1L375.9 379L372 382.9L368.1 379ZM375 374.1L378.9 378L375 381.9L371.1 378ZM378 372.1L381.9 376L378 379.9L374.1 376ZM380.5 379.1L384.4 383L380.5 386.9L376.6 383ZM383 369.1L386.9 373L383 376.9L379.1 373ZM386 368.1L389.9 372L386 375.9L382.1 372ZM389 370.1L392.9 374L389 377.9L385.1 374ZM391 376.1L394.9 380L391 383.9L387.1 380ZM395 380.1L398.9 384L395 387.9L391.1 384ZM397.5 369.1L401.4 373L397.5 376.9L393.6 373ZM400.5 371.1L404.4 375L400.5 378.9L396.6 375ZM402 372.1L405.9 376L402 379.9L398.1 376ZM405 374.1L408.9 378L405 381.9L401.1 378ZM408 379.1L411.9 383L408 386.9L404.1 383ZM411 375.1L414.9 379L411 382.9L407.1 379ZM414.5 371.1L418.4 375L414.5 378.9L410.6 375ZM417.5 376.1L421.4 380L417.5 383.9L413.6 380ZM420 378.1L423.9 382L420 385.9L416.1 382ZM422.5 385.1L426.4 389L422.5 392.9L418.6 389ZM426 380.1L429.9 384L426 387.9L422.1 384ZM428 371.1L431.9 375L428 378.9L424.1 375ZM430.5 373.1L434.4 377L430.5 380.9L426.6 377ZM433 366.1L436.9 370L433 373.9L429.1 370ZM435 368.1L438.9 372L435 375.9L431.1 372ZM437.5 362.1L441.4 366L437.5 369.9L433.6 366ZM440 365.1L443.9 369L440 372.9L436.1 369ZM443 368.1L446.9 372L443 375.9L439.1 372ZM445 370.1L448.9 374L445 377.9L441.1 374ZM448 364.1L451.9 368L448 371.9L444.1 368ZM451 366.1L454.9 370L451 373.9L447.1 370ZM454 369.1L457.9 373L454 376.9L450.1 373ZM456 363.1L459.9 367L456 370.9L452.1 367ZM458.7 364.8L462.6 368.7L458.7 372.6L454.8 368.7ZM460 356.1L463.9 360L460 363.9L456.1 360ZM462.7 349.4L466.6 353.3L462.7 357.2L458.8 353.3ZM467.3 357.4L471.2 361.3L467.3 365.2L463.4 361.3ZM469.3 350.8L473.2 354.7L469.3 358.6L465.4 354.7ZM471 342.1L474.9 346L471 349.9L467.1 346ZM474 341.1L477.9 345L474 348.9L470.1 345ZM476 337.1L479.9 341L476 344.9L472.1 341ZM479 334.1L482.9 338L479 341.9L475.1 338ZM481 335.1L484.9 339L481 342.9L477.1 339ZM484 331.1L487.9 335L484 338.9L480.1 335ZM486 332.1L489.9 336L486 339.9L482.1 336ZM489 323.1L492.9 327L489 330.9L485.1 327ZM492 321.1L495.9 325L492 328.9L488.1 325ZM495 320.1L498.9 324L495 327.9L491.1 324ZM498 322.1L501.9 326L498 329.9L494.1 326ZM502 320.1L505.9 324L502 327.9L498.1 324ZM504 317.6L507.9 321.5L504 325.4L500.1 321.5ZM506 319.1L509.9 323L506 326.9L502.1 323ZM509 323.1L512.9 327L509 330.9L505.1 327ZM512 325.1L515.9 329L512 332.9L508.1 329ZM515 326.1L518.9 330L515 333.9L511.1 330ZM518 328.1L521.9 332L518 335.9L514.1 332ZM521 330.1L524.9 334L521 337.9L517.1 334ZM524 333.1L527.9 337L524 340.9L520.1 337ZM527 335.1L530.9 339L527 342.9L523.1 339ZM530 338.1L533.9 342L530 345.9L526.1 342ZM533 341.1L536.9 345L533 348.9L529.1 345ZM535 346.1L538.9 350L535 353.9L531.1 350ZM538 338.1L541.9 342L538 345.9L534.1 342ZM541 335.1L544.9 339L541 342.9L537.1 339ZM544 333.1L547.9 337L544 340.9L540.1 337ZM547 329.1L550.9 333L547 336.9L543.1 333ZM550 326.1L553.9 330L550 333.9L546.1 330ZM553 322.1L556.9 326L553 329.9L549.1 326ZM556 320.1L559.9 324L556 327.9L552.1 324ZM557 323.1L560.9 327L557 330.9L553.1 327ZM559 319.1L562.9 323L559 326.9L555.1 323Z" stroke="#45458c" stroke-width="1.05" fill="none"/>
<polyline clip-path="url(#cpd)" points="360,361 364,355 368,350 375,345 383,342 391,338 397,340 403,340 408,333 412,326 418,322 425,327 432,324 436,322 441,330 445,332 449,327 454,324 459,324.5 470,325 480,325 490,324 495,328 500,336 505,340 515,343 525,346 535,350 542,350 548,346 555,344 560.6,343" stroke="#1a1a1a" stroke-width="1" fill="none" stroke-linejoin="round"/>
<path clip-path="url(#cpd)" d="M356.1 361h7.8M360 357.1v7.8M359.1 357h7.8M363 353.1v7.8M362.1 353h7.8M366 349.1v7.8M364.6 347.5h7.8M368.5 343.6v7.8M367.6 345.5h7.8M371.5 341.6v7.8M370.6 342h7.8M374.5 338.1v7.8M373.1 348h7.8M377 344.1v7.8M376.1 345h7.8M380 341.1v7.8M379.1 339h7.8M383 335.1v7.8M382.1 336.5h7.8M386 332.6v7.8M382.1 344h7.8M386 340.1v7.8M385.1 339h7.8M389 335.1v7.8M387.6 336.5h7.8M391.5 332.6v7.8M390.6 339h7.8M394.5 335.1v7.8M393.6 334h7.8M397.5 330.1v7.8M396.6 345h7.8M400.5 341.1v7.8M399.1 340h7.8M403 336.1v7.8M402.1 343h7.8M406 339.1v7.8M405.1 335h7.8M409 331.1v7.8M408.1 327h7.8M412 323.1v7.8M411.1 324h7.8M415 320.1v7.8M413.6 319.5h7.8M417.5 315.6v7.8M416.6 320h7.8M420.5 316.1v7.8M419.6 327.5h7.8M423.5 323.6v7.8M422.1 329h7.8M426 325.1v7.8M425.1 327h7.8M429 323.1v7.8M428.1 323h7.8M432 319.1v7.8M430.6 319.5h7.8M434.5 315.6v7.8M433.6 322.5h7.8M437.5 318.6v7.8M436.6 330h7.8M440.5 326.1v7.8M439.6 335.5h7.8M443.5 331.6v7.8M442.6 338.5h7.8M446.5 334.6v7.8M445.1 328h7.8M449 324.1v7.8M448.1 322h7.8M452 318.1v7.8M451.1 324h7.8M455 320.1v7.8M454.1 325h7.8M458 321.1v7.8M456.1 325h7.8M460 321.1v7.8M459.1 324h7.8M463 320.1v7.8M462.1 331h7.8M466 327.1v7.8M465.1 325h7.8M469 321.1v7.8M468.1 325h7.8M472 321.1v7.8M471.1 326h7.8M475 322.1v7.8M474.1 325h7.8M478 321.1v7.8M477.1 324h7.8M481 320.1v7.8M480.1 326h7.8M484 322.1v7.8M483.1 325h7.8M487 321.1v7.8M486.1 324h7.8M490 320.1v7.8M489.1 322h7.8M493 318.1v7.8M495.1 337h7.8M499 333.1v7.8M499.1 345h7.8M503 341.1v7.8M502.1 347h7.8M506 343.1v7.8M503.1 334h7.8M507 330.1v7.8M505.1 341h7.8M509 337.1v7.8M506.1 338h7.8M510 334.1v7.8M509.1 345h7.8M513 341.1v7.8M512.1 344h7.8M516 340.1v7.8M516.1 343h7.8M520 339.1v7.8M528.1 333h7.8M532 329.1v7.8M531.1 355h7.8M535 351.1v7.8M534.1 352h7.8M538 348.1v7.8M540.1 356h7.8M544 352.1v7.8M543.1 347h7.8M547 343.1v7.8M547.1 345h7.8M551 341.1v7.8M550.1 344h7.8M554 340.1v7.8M554.1 342h7.8M558 338.1v7.8" stroke="#333" stroke-width="1.1" fill="none"/>
<path clip-path="url(#cpd)" d="M356.1 357.1l7.8 7.8M356.1 364.9l7.8 -7.8M359.1 353.1l7.8 7.8M359.1 360.9l7.8 -7.8M362.1 349.1l7.8 7.8M362.1 356.9l7.8 -7.8M364.6 343.6l7.8 7.8M364.6 351.4l7.8 -7.8M367.6 341.6l7.8 7.8M367.6 349.4l7.8 -7.8M370.6 338.1l7.8 7.8M370.6 345.9l7.8 -7.8M373.1 344.1l7.8 7.8M373.1 351.9l7.8 -7.8M376.1 341.1l7.8 7.8M376.1 348.9l7.8 -7.8M379.1 335.1l7.8 7.8M379.1 342.9l7.8 -7.8M382.1 332.6l7.8 7.8M382.1 340.4l7.8 -7.8M382.1 340.1l7.8 7.8M382.1 347.9l7.8 -7.8M385.1 335.1l7.8 7.8M385.1 342.9l7.8 -7.8M387.6 332.6l7.8 7.8M387.6 340.4l7.8 -7.8M390.6 335.1l7.8 7.8M390.6 342.9l7.8 -7.8M393.6 330.1l7.8 7.8M393.6 337.9l7.8 -7.8M396.6 341.1l7.8 7.8M396.6 348.9l7.8 -7.8M399.1 336.1l7.8 7.8M399.1 343.9l7.8 -7.8M402.1 339.1l7.8 7.8M402.1 346.9l7.8 -7.8M405.1 331.1l7.8 7.8M405.1 338.9l7.8 -7.8M408.1 323.1l7.8 7.8M408.1 330.9l7.8 -7.8M411.1 320.1l7.8 7.8M411.1 327.9l7.8 -7.8M413.6 315.6l7.8 7.8M413.6 323.4l7.8 -7.8M416.6 316.1l7.8 7.8M416.6 323.9l7.8 -7.8M419.6 323.6l7.8 7.8M419.6 331.4l7.8 -7.8M422.1 325.1l7.8 7.8M422.1 332.9l7.8 -7.8M425.1 323.1l7.8 7.8M425.1 330.9l7.8 -7.8M428.1 319.1l7.8 7.8M428.1 326.9l7.8 -7.8M430.6 315.6l7.8 7.8M430.6 323.4l7.8 -7.8M433.6 318.6l7.8 7.8M433.6 326.4l7.8 -7.8M436.6 326.1l7.8 7.8M436.6 333.9l7.8 -7.8M439.6 331.6l7.8 7.8M439.6 339.4l7.8 -7.8M442.6 334.6l7.8 7.8M442.6 342.4l7.8 -7.8M445.1 324.1l7.8 7.8M445.1 331.9l7.8 -7.8M448.1 318.1l7.8 7.8M448.1 325.9l7.8 -7.8M451.1 320.1l7.8 7.8M451.1 327.9l7.8 -7.8M454.1 321.1l7.8 7.8M454.1 328.9l7.8 -7.8M456.1 321.1l7.8 7.8M456.1 328.9l7.8 -7.8M459.1 320.1l7.8 7.8M459.1 327.9l7.8 -7.8M462.1 327.1l7.8 7.8M462.1 334.9l7.8 -7.8M465.1 321.1l7.8 7.8M465.1 328.9l7.8 -7.8M468.1 321.1l7.8 7.8M468.1 328.9l7.8 -7.8M471.1 322.1l7.8 7.8M471.1 329.9l7.8 -7.8M474.1 321.1l7.8 7.8M474.1 328.9l7.8 -7.8M477.1 320.1l7.8 7.8M477.1 327.9l7.8 -7.8M480.1 322.1l7.8 7.8M480.1 329.9l7.8 -7.8M483.1 321.1l7.8 7.8M483.1 328.9l7.8 -7.8M486.1 320.1l7.8 7.8M486.1 327.9l7.8 -7.8M489.1 318.1l7.8 7.8M489.1 325.9l7.8 -7.8M495.1 333.1l7.8 7.8M495.1 340.9l7.8 -7.8M499.1 341.1l7.8 7.8M499.1 348.9l7.8 -7.8M502.1 343.1l7.8 7.8M502.1 350.9l7.8 -7.8M503.1 330.1l7.8 7.8M503.1 337.9l7.8 -7.8M505.1 337.1l7.8 7.8M505.1 344.9l7.8 -7.8M506.1 334.1l7.8 7.8M506.1 341.9l7.8 -7.8M509.1 341.1l7.8 7.8M509.1 348.9l7.8 -7.8M512.1 340.1l7.8 7.8M512.1 347.9l7.8 -7.8M516.1 339.1l7.8 7.8M516.1 346.9l7.8 -7.8M528.1 329.1l7.8 7.8M528.1 336.9l7.8 -7.8M531.1 351.1l7.8 7.8M531.1 358.9l7.8 -7.8M534.1 348.1l7.8 7.8M534.1 355.9l7.8 -7.8M540.1 352.1l7.8 7.8M540.1 359.9l7.8 -7.8M543.1 343.1l7.8 7.8M543.1 350.9l7.8 -7.8M547.1 341.1l7.8 7.8M547.1 348.9l7.8 -7.8M550.1 340.1l7.8 7.8M550.1 347.9l7.8 -7.8M554.1 338.1l7.8 7.8M554.1 345.9l7.8 -7.8" stroke="#1a1a1a" stroke-width="1.1" fill="none"/>
<clipPath id="cpe"><rect x="38.3" y="506.1" width="215" height="183.3"/></clipPath>
<path d="M38.3 689.4v-4M38.3 506.1v4M46.9 689.4v-2M46.9 506.1v2M55.5 689.4v-2M55.5 506.1v2M64.1 689.4v-2M64.1 506.1v2M72.7 689.4v-2M72.7 506.1v2M81.3 689.4v-4M81.3 506.1v4M89.9 689.4v-2M89.9 506.1v2M98.5 689.4v-2M98.5 506.1v2M107.1 689.4v-2M107.1 506.1v2M115.7 689.4v-2M115.7 506.1v2M124.3 689.4v-4M124.3 506.1v4M132.9 689.4v-2M132.9 506.1v2M141.5 689.4v-2M141.5 506.1v2M150.1 689.4v-2M150.1 506.1v2M158.7 689.4v-2M158.7 506.1v2M167.3 689.4v-4M167.3 506.1v4M175.9 689.4v-2M175.9 506.1v2M184.5 689.4v-2M184.5 506.1v2M193.1 689.4v-2M193.1 506.1v2M201.7 689.4v-2M201.7 506.1v2M210.3 689.4v-4M210.3 506.1v4M218.9 689.4v-2M218.9 506.1v2M227.5 689.4v-2M227.5 506.1v2M236.1 689.4v-2M236.1 506.1v2M244.7 689.4v-2M244.7 506.1v2M253.3 689.4v-4M253.3 506.1v4M38.3 689.4h4M38.3 684.82h2M38.3 680.24h2M38.3 675.65h2M38.3 671.07h2M38.3 666.49h2M38.3 661.91h2M38.3 657.32h2M38.3 652.74h2M38.3 648.16h2M38.3 643.58h4M38.3 638.99h2M38.3 634.41h2M38.3 629.83h2M38.3 625.25h2M38.3 620.66h2M38.3 616.08h2M38.3 611.5h2M38.3 606.92h2M38.3 602.33h2M38.3 597.75h4M38.3 593.17h2M38.3 588.59h2M38.3 584h2M38.3 579.42h2M38.3 574.84h2M38.3 570.26h2M38.3 565.67h2M38.3 561.09h2M38.3 556.51h2M38.3 551.93h4M38.3 547.34h2M38.3 542.76h2M38.3 538.18h2M38.3 533.6h2M38.3 529.01h2M38.3 524.43h2M38.3 519.85h2M38.3 515.27h2M38.3 510.68h2M38.3 506.1h4" stroke="#444" stroke-width="1.1" fill="none"/>
<path d="M253.3 506.1H38.3V689.4H253.3" stroke="#444" stroke-width="1.25" fill="none"/>
<path d="M253.3 506.1V689.4M253.3 679.73h-2M253.3 669.54h-4M253.3 659.36h-2M253.3 649.18h-2M253.3 638.99h-2M253.3 628.81h-2M253.3 618.63h-4M253.3 608.44h-2M253.3 598.26h-2M253.3 588.08h-2M253.3 577.89h-2M253.3 567.71h-4M253.3 557.53h-2M253.3 547.34h-2M253.3 537.16h-2M253.3 526.98h-2M253.3 516.79h-4M253.3 506.61h-2" stroke="#dc4c58" stroke-width="1.25" fill="none"/>
<text x="35.4" y="690" text-anchor="end" fill="#3c3c3c" font-size="10" letter-spacing="0.5">0.6</text>
<text x="35.4" y="647.98" text-anchor="end" fill="#3c3c3c" font-size="10" letter-spacing="0.5">0.7</text>
<text x="35.4" y="602.15" text-anchor="end" fill="#3c3c3c" font-size="10" letter-spacing="0.5">0.8</text>
<text x="35.4" y="556.33" text-anchor="end" fill="#3c3c3c" font-size="10" letter-spacing="0.5">0.9</text>
<text x="35.4" y="513.3" text-anchor="end" fill="#3c3c3c" font-size="10" letter-spacing="0.5">1.0</text>
<text x="38.9" y="704.6" text-anchor="middle" fill="#3c3c3c" font-size="10" letter-spacing="0.7">0.0</text>
<text x="81.9" y="704.6" text-anchor="middle" fill="#3c3c3c" font-size="10" letter-spacing="0.7">0.5</text>
<text x="124.9" y="704.6" text-anchor="middle" fill="#3c3c3c" font-size="10" letter-spacing="0.7">1.0</text>
<text x="167.9" y="704.6" text-anchor="middle" fill="#3c3c3c" font-size="10" letter-spacing="0.7">1.5</text>
<text x="210.9" y="704.6" text-anchor="middle" fill="#3c3c3c" font-size="10" letter-spacing="0.7">2.0</text>
<text x="253.9" y="704.6" text-anchor="middle" fill="#3c3c3c" font-size="10" letter-spacing="0.7">2.5</text>
<text x="257.5" y="521.29" fill="#d05058" font-size="10" letter-spacing="0.5">100</text>
<text x="257.5" y="572.21" fill="#d05058" font-size="10" letter-spacing="0.5">50</text>
<text x="257.5" y="623.13" fill="#d05058" font-size="10" letter-spacing="0.5">0</text>
<text x="257.5" y="674.04" fill="#d05058" font-size="10" letter-spacing="0.5">−50</text>
<text x="115.9" y="717.1" fill="#3c3c3c" font-size="10" textLength="22.2" lengthAdjust="spacingAndGlyphs">Time</text>
<text x="144.3" y="717.1" fill="#3c3c3c" font-size="10" textLength="36.1" lengthAdjust="spacingAndGlyphs">(hours)</text>
<text transform="translate(11,710.2) rotate(-90)" fill="#3c3c3c" font-size="10" textLength="39.1" lengthAdjust="spacingAndGlyphs">Averɑge</text>
<text transform="translate(11,666.6) rotate(-90)" fill="#3c3c3c" font-size="10" textLength="39.1" lengthAdjust="spacingAndGlyphs">Velocity</text>
<text transform="translate(11,624.1) rotate(-90)" fill="#3c3c3c" font-size="10" textLength="10.2" lengthAdjust="spacingAndGlyphs">of</text>
<text transform="translate(11,606.6) rotate(-90)" fill="#3c3c3c" font-size="10" textLength="51.5" lengthAdjust="spacingAndGlyphs">Penumbrɑl</text>
<text transform="translate(11,549.4) rotate(-90)" fill="#3c3c3c" font-size="10" textLength="20.3" lengthAdjust="spacingAndGlyphs">Flow</text>
<text transform="translate(11,523.2) rotate(-90)" fill="#3c3c3c" font-size="10" textLength="35.5" lengthAdjust="spacingAndGlyphs">(km/s)</text>
<text transform="translate(288,668.2) rotate(-90)" fill="#d05058" font-size="10" textLength="38" lengthAdjust="spacingAndGlyphs">Averɑge</text>
<text transform="translate(288,625.4) rotate(-90)" fill="#d05058" font-size="10" textLength="51.9" lengthAdjust="spacingAndGlyphs">Difference</text>
<text transform="translate(288,568.8) rotate(-90)" fill="#d05058" font-size="10" textLength="40.8" lengthAdjust="spacingAndGlyphs">Intensity</text>
<text x="171.4" y="679" fill="#2a2a2a" font-size="10.6" textLength="15.6" lengthAdjust="spacingAndGlyphs">(e)</text>
<text x="194.4" y="679" fill="#2a2a2a" font-size="10.6" textLength="23.2" lengthAdjust="spacingAndGlyphs">Areɑ</text>
<text x="223.2" y="679" fill="#2a2a2a" font-size="10.6" textLength="12.4" lengthAdjust="spacingAndGlyphs">A5</text>
<path d="M129.2 506.1V689.4" stroke="#626262" stroke-width="1.2" stroke-dasharray="7.4 7.3" fill="none"/>
<polyline clip-path="url(#cpe)" points="38.3,620 46,620 56,615 66,610 73,607 78,608 84,615 90,625 96,636 102,641 110,644 118,647 126,645 132,644 140,643 148,641 155,637 163,636 170,635 178,633 187,632 195,631 203,629 208,628 214,630 222,630 230,632 238,631 246,631 253.3,632" stroke="#d83c40" stroke-width="1" fill="none" stroke-linejoin="round"/>
<path clip-path="url(#cpe)" d="M40 612.1L43.9 616L40 619.9L36.1 616ZM40.5 619.1L44.4 623L40.5 626.9L36.6 623ZM44 615.1L47.9 619L44 622.9L40.1 619ZM46.5 622.1L50.4 626L46.5 629.9L42.6 626ZM49 617.1L52.9 621L49 624.9L45.1 621ZM51 615.1L54.9 619L51 622.9L47.1 619ZM53.5 613.1L57.4 617L53.5 620.9L49.6 617ZM56 611.1L59.9 615L56 618.9L52.1 615ZM58 608.1L61.9 612L58 615.9L54.1 612ZM60.5 610.1L64.4 614L60.5 617.9L56.6 614ZM63 608.1L66.9 612L63 615.9L59.1 612ZM66 606.1L69.9 610L66 613.9L62.1 610ZM69.5 599.1L73.4 603L69.5 606.9L65.6 603ZM72.5 605.1L76.4 609L72.5 612.9L68.6 609ZM75.5 596.1L79.4 600L75.5 603.9L71.6 600ZM78 601.1L81.9 605L78 608.9L74.1 605ZM80.5 604.1L84.4 608L80.5 611.9L76.6 608ZM82.5 606.1L86.4 610L82.5 613.9L78.6 610ZM84.5 610.1L88.4 614L84.5 617.9L80.6 614ZM87 616.1L90.9 620L87 623.9L83.1 620ZM89.5 625.6L93.4 629.5L89.5 633.4L85.6 629.5ZM91 626.1L94.9 630L91 633.9L87.1 630ZM92.5 630.1L96.4 634L92.5 637.9L88.6 634ZM93 631.1L96.9 635L93 638.9L89.1 635ZM95 637.1L98.9 641L95 644.9L91.1 641ZM98 642.1L101.9 646L98 649.9L94.1 646ZM101 638.1L104.9 642L101 645.9L97.1 642ZM104 640.1L107.9 644L104 647.9L100.1 644ZM107 636.1L110.9 640L107 643.9L103.1 640ZM110 636.1L113.9 640L110 643.9L106.1 640ZM112 645.1L115.9 649L112 652.9L108.1 649ZM115 646.1L118.9 650L115 653.9L111.1 650ZM117 648.1L120.9 652L117 655.9L113.1 652ZM120 643.1L123.9 647L120 650.9L116.1 647ZM123 640.1L126.9 644L123 647.9L119.1 644ZM126 638.1L129.9 642L126 645.9L122.1 642ZM128 644.1L131.9 648L128 651.9L124.1 648ZM131 635.1L134.9 639L131 642.9L127.1 639ZM134 645.1L137.9 649L134 652.9L130.1 649ZM136.5 648.1L140.4 652L136.5 655.9L132.6 652ZM139.5 643.1L143.4 647L139.5 650.9L135.6 647ZM142.5 639.1L146.4 643L142.5 646.9L138.6 643ZM145.5 638.1L149.4 642L145.5 645.9L141.6 642ZM147 637.1L150.9 641L147 644.9L143.1 641ZM148.5 641.1L152.4 645L148.5 648.9L144.6 645ZM150.5 644.1L154.4 648L150.5 651.9L146.6 648ZM152 633.1L155.9 637L152 640.9L148.1 637ZM155 636.1L158.9 640L155 643.9L151.1 640ZM158 628.1L161.9 632L158 635.9L154.1 632ZM161 624.1L164.9 628L161 631.9L157.1 628ZM164.5 620.1L168.4 624L164.5 627.9L160.6 624ZM167.5 626.1L171.4 630L167.5 633.9L163.6 630ZM170 629.1L173.9 633L170 636.9L166.1 633ZM172.5 640.1L176.4 644L172.5 647.9L168.6 644ZM174.5 634.1L178.4 638L174.5 641.9L170.6 638ZM177 632.1L180.9 636L177 639.9L173.1 636ZM181 645.1L184.9 649L181 652.9L177.1 649ZM180 631.1L183.9 635L180 638.9L176.1 635ZM183 629.1L186.9 633L183 636.9L179.1 633ZM186 628.1L189.9 632L186 635.9L182.1 632ZM189 627.1L192.9 631L189 634.9L185.1 631ZM192 629.1L195.9 633L192 636.9L188.1 633ZM195 630.1L198.9 634L195 637.9L191.1 634ZM198 620.1L201.9 624L198 627.9L194.1 624ZM199 620.1L202.9 624L199 627.9L195.1 624ZM201.5 626.1L205.4 630L201.5 633.9L197.6 630ZM203 616.1L206.9 620L203 623.9L199.1 620ZM204.5 615.1L208.4 619L204.5 622.9L200.6 619ZM207.5 617.1L211.4 621L207.5 624.9L203.6 621ZM210.5 623.1L214.4 627L210.5 630.9L206.6 627ZM213 631.1L216.9 635L213 638.9L209.1 635ZM215.5 632.1L219.4 636L215.5 639.9L211.6 636ZM218.5 636.1L222.4 640L218.5 643.9L214.6 640ZM222 629.6L225.9 633.5L222 637.4L218.1 633.5ZM224.5 619.6L228.4 623.5L224.5 627.4L220.6 623.5ZM227.5 637.1L231.4 641L227.5 644.9L223.6 641ZM230 628.1L233.9 632L230 635.9L226.1 632ZM233 620.1L236.9 624L233 627.9L229.1 624ZM236 615.6L239.9 619.5L236 623.4L232.1 619.5ZM239 625.1L242.9 629L239 632.9L235.1 629ZM241.5 635.1L245.4 639L241.5 642.9L237.6 639ZM244.5 637.6L248.4 641.5L244.5 645.4L240.6 641.5ZM247 627.6L250.9 631.5L247 635.4L243.1 631.5ZM250 616.1L253.9 620L250 623.9L246.1 620ZM252 628.1L255.9 632L252 635.9L248.1 632Z" stroke="#d83c40" stroke-width="1.05" fill="none"/>
<polyline clip-path="url(#cpe)" points="52.5,594 58,590 64,584 70,584 76,582 82,584 88,588 95,585 103,574 110,565 115,560 120,564 124,571 128,578 133,587 138,592 142,593 146,588 150,580 156,573 162,579 168,584 174,587 179,583 184,574 189,565 195,557 201,548 205,544 210,548 215,553 220,561 225,568 230,573 235,575 240,572 245,568 248,563 251,552 253.3,545" stroke="#1a1a1a" stroke-width="1" fill="none" stroke-linejoin="round"/>
<path clip-path="url(#cpe)" d="M48.6 594.5h7.8M52.5 590.6v7.8M51.6 595.5h7.8M55.5 591.6v7.8M54.1 592h7.8M58 588.1v7.8M56.6 582h7.8M60.5 578.1v7.8M60.1 577.5h7.8M64 573.6v7.8M63.1 584h7.8M67 580.1v7.8M66.1 588h7.8M70 584.1v7.8M69.1 584h7.8M73 580.1v7.8M72.1 581h7.8M76 577.1v7.8M74.6 580h7.8M78.5 576.1v7.8M77.6 584h7.8M81.5 580.1v7.8M80.6 583h7.8M84.5 579.1v7.8M83.1 592h7.8M87 588.1v7.8M86.1 589h7.8M90 585.1v7.8M89.1 593h7.8M93 589.1v7.8M91.6 586h7.8M95.5 582.1v7.8M92.6 577h7.8M96.5 573.1v7.8M95.1 579h7.8M99 575.1v7.8M98.1 575h7.8M102 571.1v7.8M101.1 572h7.8M105 568.1v7.8M103.1 569h7.8M107 565.1v7.8M106.1 564h7.8M110 560.1v7.8M108.6 560h7.8M112.5 556.1v7.8M111.6 557h7.8M115.5 553.1v7.8M114.6 560h7.8M118.5 556.1v7.8M117.1 561h7.8M121 557.1v7.8M120.1 580h7.8M124 576.1v7.8M123.1 574h7.8M127 570.1v7.8M126.1 576h7.8M130 572.1v7.8M129.1 589h7.8M133 585.1v7.8M132.1 592h7.8M136 588.1v7.8M135.1 595h7.8M139 591.1v7.8M137.6 593h7.8M141.5 589.1v7.8M140.1 594h7.8M144 590.1v7.8M143.1 586h7.8M147 582.1v7.8M146.1 560.5h7.8M150 556.6v7.8M148.6 576h7.8M152.5 572.1v7.8M150.6 569h7.8M154.5 565.1v7.8M152.1 570h7.8M156 566.1v7.8M155.1 570h7.8M159 566.1v7.8M157.6 580h7.8M161.5 576.1v7.8M161.1 576h7.8M165 572.1v7.8M163.1 581h7.8M167 577.1v7.8M166.1 589h7.8M170 585.1v7.8M169.1 584h7.8M173 580.1v7.8M172.1 585h7.8M176 581.1v7.8M174.6 589h7.8M178.5 585.1v7.8M178.1 585h7.8M182 581.1v7.8M180.6 572h7.8M184.5 568.1v7.8M183.6 567h7.8M187.5 563.1v7.8M186.1 558h7.8M190 554.1v7.8M189.1 560h7.8M193 556.1v7.8M192.1 575h7.8M196 571.1v7.8M195.1 539.5h7.8M199 535.6v7.8M198.1 543h7.8M202 539.1v7.8M201.1 540.5h7.8M205 536.6v7.8M203.6 550h7.8M207.5 546.1v7.8M206.1 546.5h7.8M210 542.6v7.8M209.1 551h7.8M213 547.1v7.8M212.1 542h7.8M216 538.1v7.8M215.1 561h7.8M219 557.1v7.8M217.6 560h7.8M221.5 556.1v7.8M220.6 567h7.8M224.5 563.1v7.8M223.6 581h7.8M227.5 577.1v7.8M226.1 572.5h7.8M230 568.6v7.8M229.1 574h7.8M233 570.1v7.8M232.1 591.6h7.8M236 587.7v7.8M235.1 571h7.8M239 567.1v7.8M237.6 574h7.8M241.5 570.1v7.8M240.6 569h7.8M244.5 565.1v7.8M243.1 564h7.8M247 560.1v7.8M246.6 568h7.8M250.5 564.1v7.8M249.1 531h7.8M253 527.1v7.8" stroke="#333" stroke-width="1.1" fill="none"/>
<path clip-path="url(#cpe)" d="M48.6 590.6l7.8 7.8M48.6 598.4l7.8 -7.8M51.6 591.6l7.8 7.8M51.6 599.4l7.8 -7.8M54.1 588.1l7.8 7.8M54.1 595.9l7.8 -7.8M56.6 578.1l7.8 7.8M56.6 585.9l7.8 -7.8M60.1 573.6l7.8 7.8M60.1 581.4l7.8 -7.8M63.1 580.1l7.8 7.8M63.1 587.9l7.8 -7.8M66.1 584.1l7.8 7.8M66.1 591.9l7.8 -7.8M69.1 580.1l7.8 7.8M69.1 587.9l7.8 -7.8M72.1 577.1l7.8 7.8M72.1 584.9l7.8 -7.8M74.6 576.1l7.8 7.8M74.6 583.9l7.8 -7.8M77.6 580.1l7.8 7.8M77.6 587.9l7.8 -7.8M80.6 579.1l7.8 7.8M80.6 586.9l7.8 -7.8M83.1 588.1l7.8 7.8M83.1 595.9l7.8 -7.8M86.1 585.1l7.8 7.8M86.1 592.9l7.8 -7.8M89.1 589.1l7.8 7.8M89.1 596.9l7.8 -7.8M91.6 582.1l7.8 7.8M91.6 589.9l7.8 -7.8M92.6 573.1l7.8 7.8M92.6 580.9l7.8 -7.8M95.1 575.1l7.8 7.8M95.1 582.9l7.8 -7.8M98.1 571.1l7.8 7.8M98.1 578.9l7.8 -7.8M101.1 568.1l7.8 7.8M101.1 575.9l7.8 -7.8M103.1 565.1l7.8 7.8M103.1 572.9l7.8 -7.8M106.1 560.1l7.8 7.8M106.1 567.9l7.8 -7.8M108.6 556.1l7.8 7.8M108.6 563.9l7.8 -7.8M111.6 553.1l7.8 7.8M111.6 560.9l7.8 -7.8M114.6 556.1l7.8 7.8M114.6 563.9l7.8 -7.8M117.1 557.1l7.8 7.8M117.1 564.9l7.8 -7.8M120.1 576.1l7.8 7.8M120.1 583.9l7.8 -7.8M123.1 570.1l7.8 7.8M123.1 577.9l7.8 -7.8M126.1 572.1l7.8 7.8M126.1 579.9l7.8 -7.8M129.1 585.1l7.8 7.8M129.1 592.9l7.8 -7.8M132.1 588.1l7.8 7.8M132.1 595.9l7.8 -7.8M135.1 591.1l7.8 7.8M135.1 598.9l7.8 -7.8M137.6 589.1l7.8 7.8M137.6 596.9l7.8 -7.8M140.1 590.1l7.8 7.8M140.1 597.9l7.8 -7.8M143.1 582.1l7.8 7.8M143.1 589.9l7.8 -7.8M146.1 556.6l7.8 7.8M146.1 564.4l7.8 -7.8M148.6 572.1l7.8 7.8M148.6 579.9l7.8 -7.8M150.6 565.1l7.8 7.8M150.6 572.9l7.8 -7.8M152.1 566.1l7.8 7.8M152.1 573.9l7.8 -7.8M155.1 566.1l7.8 7.8M155.1 573.9l7.8 -7.8M157.6 576.1l7.8 7.8M157.6 583.9l7.8 -7.8M161.1 572.1l7.8 7.8M161.1 579.9l7.8 -7.8M163.1 577.1l7.8 7.8M163.1 584.9l7.8 -7.8M166.1 585.1l7.8 7.8M166.1 592.9l7.8 -7.8M169.1 580.1l7.8 7.8M169.1 587.9l7.8 -7.8M172.1 581.1l7.8 7.8M172.1 588.9l7.8 -7.8M174.6 585.1l7.8 7.8M174.6 592.9l7.8 -7.8M178.1 581.1l7.8 7.8M178.1 588.9l7.8 -7.8M180.6 568.1l7.8 7.8M180.6 575.9l7.8 -7.8M183.6 563.1l7.8 7.8M183.6 570.9l7.8 -7.8M186.1 554.1l7.8 7.8M186.1 561.9l7.8 -7.8M189.1 556.1l7.8 7.8M189.1 563.9l7.8 -7.8M192.1 571.1l7.8 7.8M192.1 578.9l7.8 -7.8M195.1 535.6l7.8 7.8M195.1 543.4l7.8 -7.8M198.1 539.1l7.8 7.8M198.1 546.9l7.8 -7.8M201.1 536.6l7.8 7.8M201.1 544.4l7.8 -7.8M203.6 546.1l7.8 7.8M203.6 553.9l7.8 -7.8M206.1 542.6l7.8 7.8M206.1 550.4l7.8 -7.8M209.1 547.1l7.8 7.8M209.1 554.9l7.8 -7.8M212.1 538.1l7.8 7.8M212.1 545.9l7.8 -7.8M215.1 557.1l7.8 7.8M215.1 564.9l7.8 -7.8M217.6 556.1l7.8 7.8M217.6 563.9l7.8 -7.8M220.6 563.1l7.8 7.8M220.6 570.9l7.8 -7.8M223.6 577.1l7.8 7.8M223.6 584.9l7.8 -7.8M226.1 568.6l7.8 7.8M226.1 576.4l7.8 -7.8M229.1 570.1l7.8 7.8M229.1 577.9l7.8 -7.8M232.1 587.7l7.8 7.8M232.1 595.5l7.8 -7.8M235.1 567.1l7.8 7.8M235.1 574.9l7.8 -7.8M237.6 570.1l7.8 7.8M237.6 577.9l7.8 -7.8M240.6 565.1l7.8 7.8M240.6 572.9l7.8 -7.8M243.1 560.1l7.8 7.8M243.1 567.9l7.8 -7.8M246.6 564.1l7.8 7.8M246.6 571.9l7.8 -7.8M249.1 527.1l7.8 7.8M249.1 534.9l7.8 -7.8" stroke="#1a1a1a" stroke-width="1.1" fill="none"/>
</g>
</svg></body></html>
